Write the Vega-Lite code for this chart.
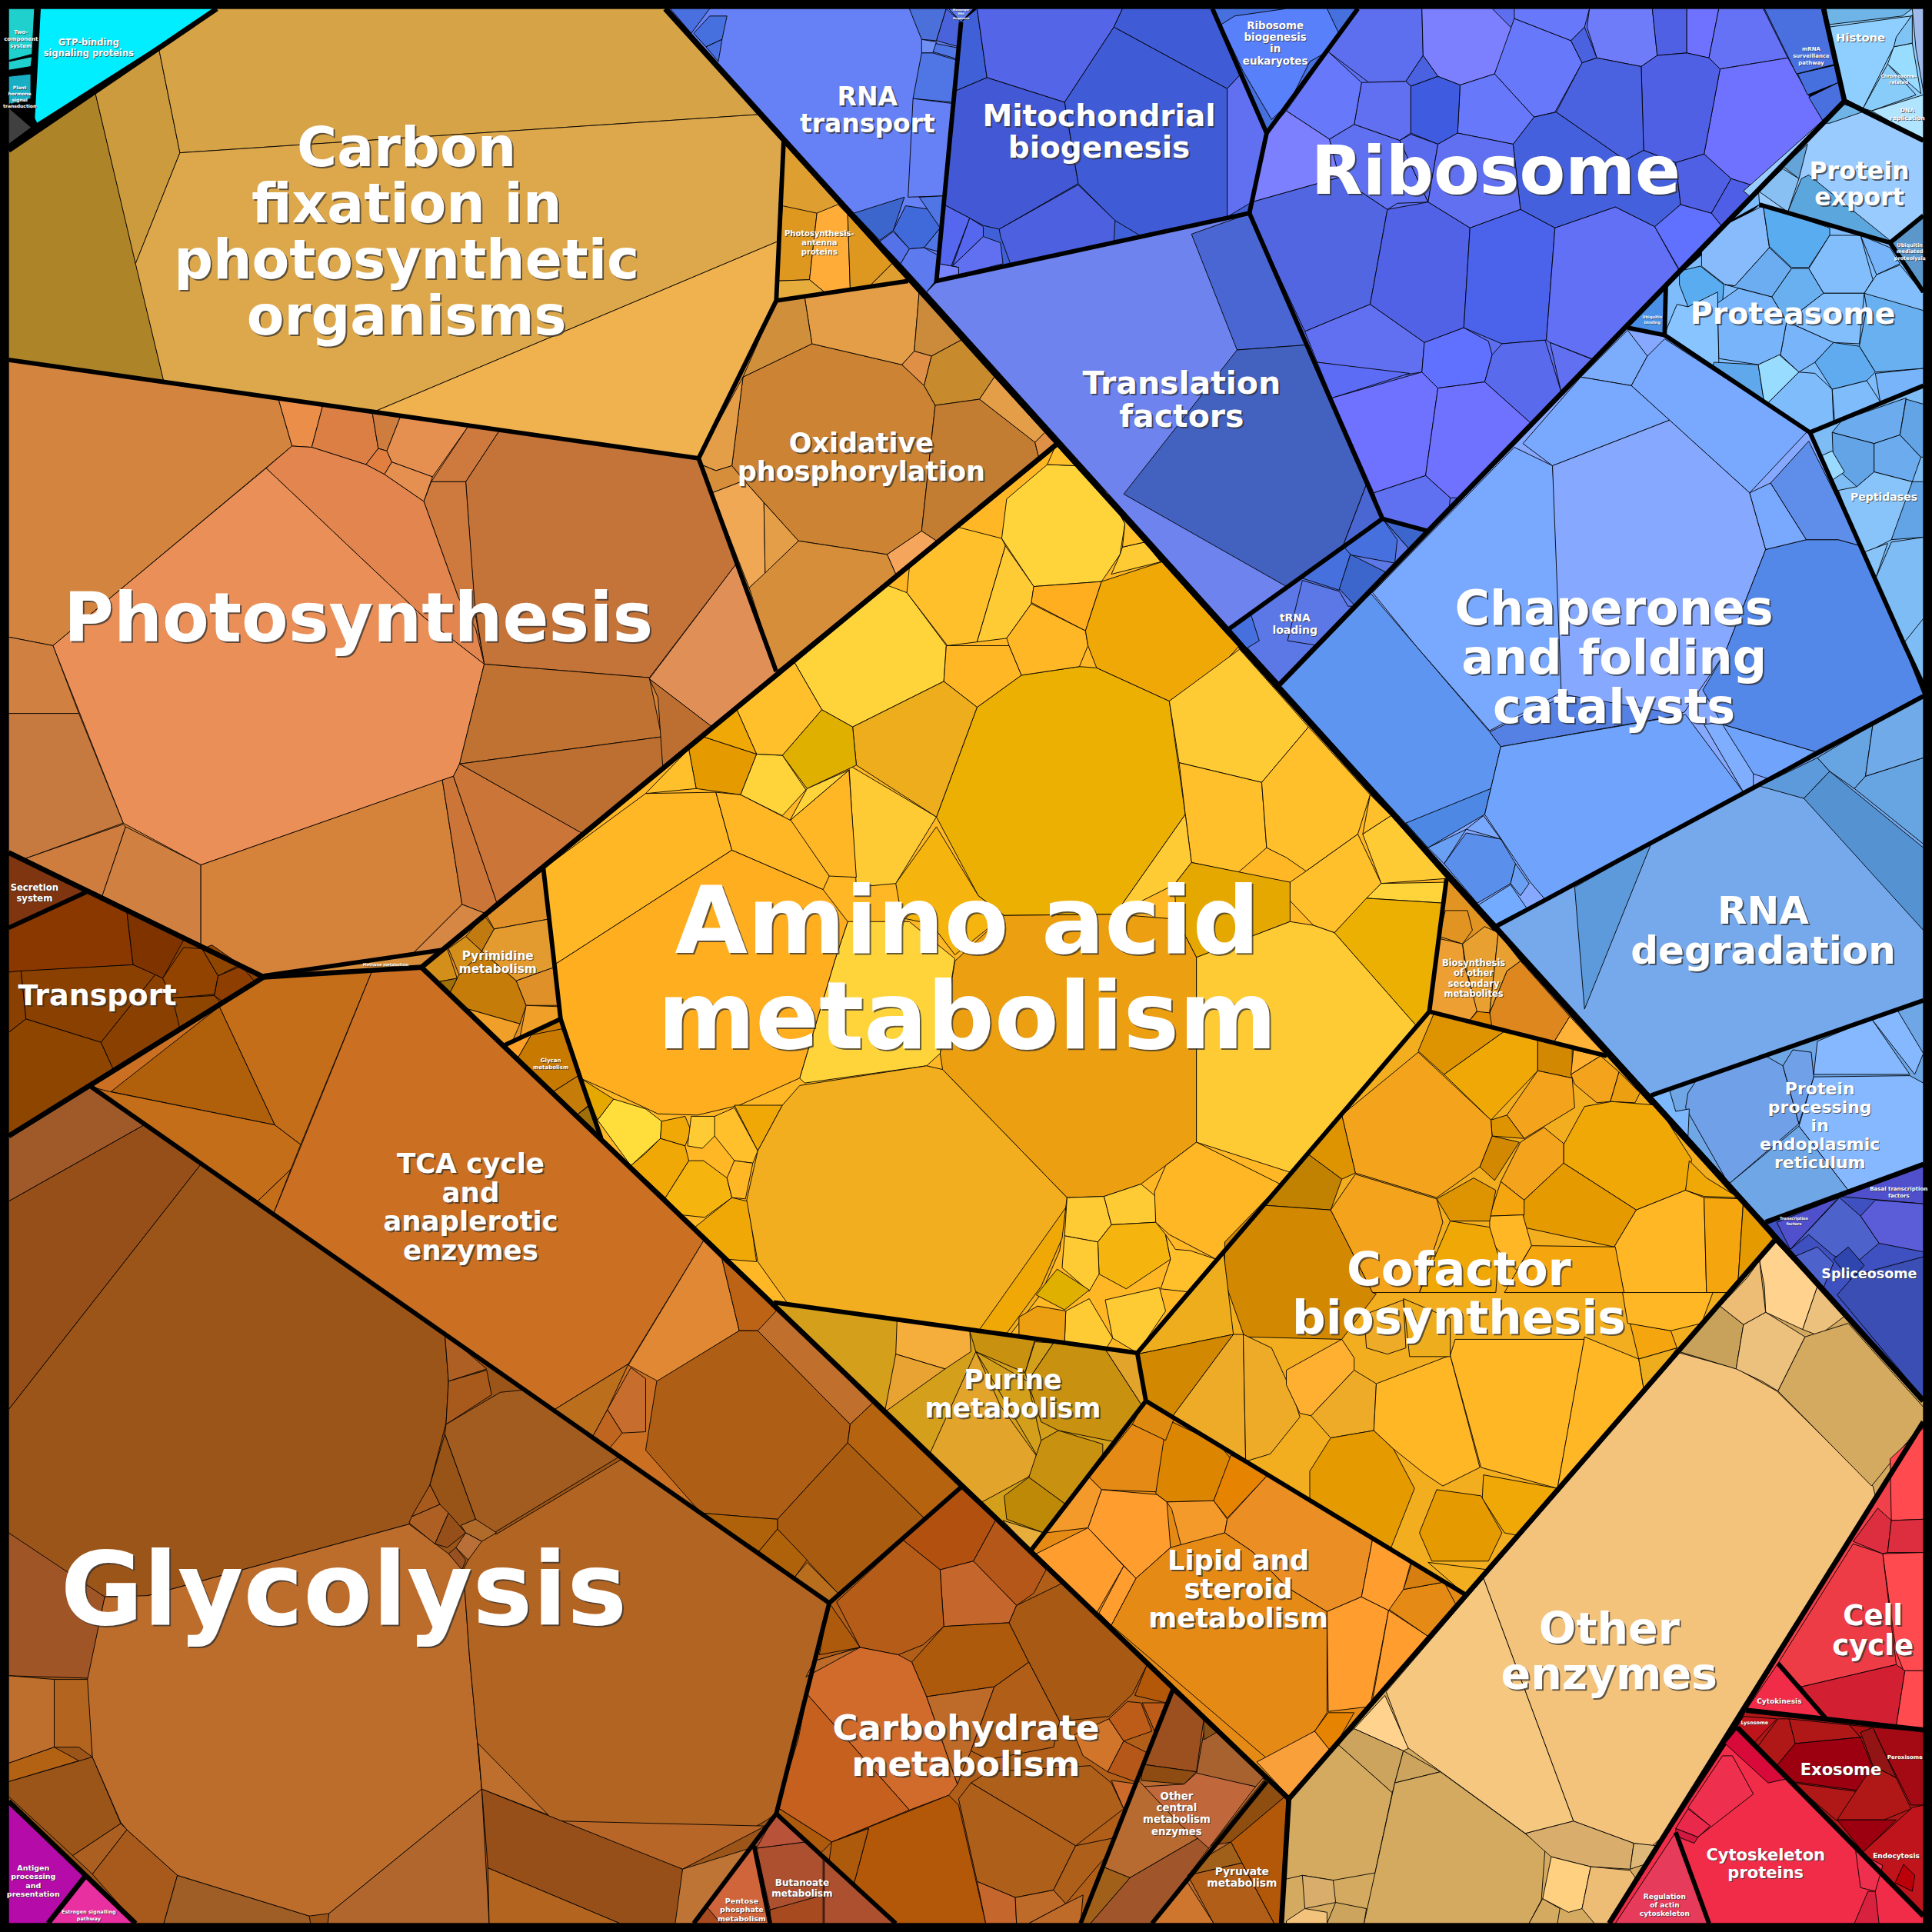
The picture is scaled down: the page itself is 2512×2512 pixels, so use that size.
{"$schema":"https://vega.github.io/schema/vega-lite/v6.json","width":2512,"height":2512,"padding":0,"autosize":"none","background":"#000000","view":{"stroke":null},"projection":{"type":"identity"},
"datasets":{"cells":[
{"k":"z0","type":"Polygon","coordinates":[[[0,0],[1568,0],[1568,1568],[0,1568],[0,0]]]},
{"k":"c4","type":"Polygon","coordinates":[[[176,7],[540,7],[636,115],[630,244],[567,372],[7,292],[7,122],[176,7]]]},
{"k":"c2","type":"Polygon","coordinates":[[[7,122],[77,74],[133,310],[7,292],[7,122]]]},
{"k":"c3","type":"Polygon","coordinates":[[[77,74],[129,40],[146,124],[110,214],[77,74]]]},
{"k":"c1","type":"Polygon","coordinates":[[[129,40],[176,7],[540,7],[615,93],[146,124],[129,40]]]},
{"k":"c4","type":"Polygon","coordinates":[[[146,124],[615,93],[635,115],[631,196],[304,334],[133,310],[110,214],[146,124]]]},
{"k":"c5","type":"Polygon","coordinates":[[[304,334],[631,196],[630,244],[567,372],[304,334]]]},
{"k":"a1","type":"Polygon","coordinates":[[[635,115],[737,228],[630,244],[635,115]]]},
{"k":"a2","type":"Polygon","coordinates":[[[635,167],[663,173],[657,227],[631,228],[635,167]]]},
{"k":"a3","type":"Polygon","coordinates":[[[663,173],[680,166],[688,174],[690,234],[669,237],[657,227],[663,173]]]},
{"k":"a2","type":"Polygon","coordinates":[[[688,174],[724,214],[706,232],[690,234],[688,174]]]},
{"k":"a4","type":"Polygon","coordinates":[[[631,228],[657,227],[669,237],[630,244],[631,228]]]},
{"k":"a1","type":"Polygon","coordinates":[[[706,232],[724,214],[737,228],[706,232]]]},
{"k":"x1","type":"Polygon","coordinates":[[[630,244],[737,228],[857,361],[630,545],[567,372],[630,244]]]},
{"k":"x2","type":"Polygon","coordinates":[[[659,279],[732,296],[750,313],[759,329],[748,431],[720,450],[648,439],[604,390],[594,378],[603,306],[659,279]]]},
{"k":"x3","type":"Polygon","coordinates":[[[653,241],[737,228],[746,237],[742,285],[732,296],[659,279],[653,241]]]},
{"k":"x1","type":"Polygon","coordinates":[[[630,244],[653,241],[659,279],[603,306],[630,244]]]},
{"k":"x4","type":"Polygon","coordinates":[[[746,237],[780,276],[756,289],[742,285],[746,237]]]},
{"k":"x5","type":"Polygon","coordinates":[[[742,285],[756,289],[750,313],[732,296],[742,285]]]},
{"k":"x6","type":"Polygon","coordinates":[[[756,289],[780,276],[807,306],[795,324],[759,329],[750,313],[756,289]]]},
{"k":"x7","type":"Polygon","coordinates":[[[759,329],[795,324],[840,359],[843,371],[760,439],[748,431],[759,329]]]},
{"k":"x3","type":"Polygon","coordinates":[[[795,324],[807,306],[848,351],[840,359],[795,324]]]},
{"k":"x5","type":"Polygon","coordinates":[[[840,359],[848,351],[857,361],[843,371],[840,359]]]},
{"k":"x8","type":"Polygon","coordinates":[[[720,450],[748,431],[760,439],[727,466],[720,450]]]},
{"k":"x9","type":"Polygon","coordinates":[[[648,439],[720,450],[727,466],[630,545],[608,477],[648,439]]]},
{"k":"x3","type":"Polygon","coordinates":[[[567,372],[603,306],[594,378],[581,382],[569,377],[567,372]]]},
{"k":"x9","type":"Polygon","coordinates":[[[569,377],[581,382],[594,378],[604,390],[578,400],[573,388],[569,377]]]},
{"k":"x10","type":"Polygon","coordinates":[[[578,400],[604,390],[620,408],[621,465],[608,477],[578,400]]]},
{"k":"x3","type":"Polygon","coordinates":[[[620,408],[648,439],[621,465],[620,408]]]},
{"k":"p13","type":"Polygon","coordinates":[[[7,292],[567,372],[630,545],[359,771],[214,792],[7,692],[7,292]]]},
{"k":"p1","type":"Polygon","coordinates":[[[7,292],[226,324],[237,362],[43,524],[7,517],[7,292]]]},
{"k":"p2","type":"Polygon","coordinates":[[[226,324],[262,329],[253,363],[237,362],[226,324]]]},
{"k":"p3","type":"Polygon","coordinates":[[[262,329],[302,334],[307,364],[297,377],[253,363],[262,329]]]},
{"k":"p4","type":"Polygon","coordinates":[[[302,334],[325,338],[314,366],[307,364],[302,334]]]},
{"k":"p5","type":"Polygon","coordinates":[[[307,364],[314,366],[318,375],[312,385],[297,377],[307,364]]]},
{"k":"p6","type":"Polygon","coordinates":[[[325,338],[380,346],[351,387],[318,375],[314,366],[325,338]]]},
{"k":"p6","type":"Polygon","coordinates":[[[318,375],[351,387],[344,407],[312,385],[318,375]]]},
{"k":"p7","type":"Polygon","coordinates":[[[380,346],[405,350],[378,391],[350,391],[380,346]]]},
{"k":"p8","type":"Polygon","coordinates":[[[405,350],[567,372],[598,457],[527,550],[393,539],[385,490],[378,391],[405,350]]]},
{"k":"p7","type":"Polygon","coordinates":[[[344,407],[350,391],[378,391],[386,500],[393,539],[372,485],[344,407]]]},
{"k":"p10","type":"Polygon","coordinates":[[[237,362],[253,363],[297,377],[312,385],[344,407],[372,485],[386,510],[393,539],[344,501],[216,380],[237,362]]]},
{"k":"p9","type":"Polygon","coordinates":[[[216,380],[344,501],[393,539],[373,620],[368,630],[163,702],[100,668],[43,524],[216,380]]]},
{"k":"p11","type":"Polygon","coordinates":[[[7,517],[43,524],[64,579],[7,579],[7,517]]]},
{"k":"p12","type":"Polygon","coordinates":[[[7,579],[64,579],[100,668],[20,697],[7,692],[7,579]]]},
{"k":"p4","type":"Polygon","coordinates":[[[20,697],[100,669],[102,671],[83,727],[20,697]]]},
{"k":"p11","type":"Polygon","coordinates":[[[102,671],[163,702],[163,767],[83,727],[102,671]]]},
{"k":"p13","type":"Polygon","coordinates":[[[163,702],[359,633],[375,734],[336,773],[214,792],[163,767],[163,702]]]},
{"k":"p14","type":"Polygon","coordinates":[[[359,633],[368,630],[403,732],[393,741],[375,734],[359,633]]]},
{"k":"p18","type":"Polygon","coordinates":[[[375,734],[393,741],[359,771],[336,773],[375,734]]]},
{"k":"p14","type":"Polygon","coordinates":[[[368,630],[373,620],[472,676],[403,732],[368,630]]]},
{"k":"p15","type":"Polygon","coordinates":[[[393,539],[527,550],[537,598],[373,620],[393,539]]]},
{"k":"p16","type":"Polygon","coordinates":[[[373,620],[537,598],[538,624],[472,676],[373,620]]]},
{"k":"p17","type":"Polygon","coordinates":[[[527,551],[598,457],[631,546],[578,590],[527,551]]]},
{"k":"p16","type":"Polygon","coordinates":[[[527,551],[578,590],[538,624],[534,566],[527,551]]]},
{"k":"x9","type":"Polygon","coordinates":[[[214,793],[359,771],[342,785],[214,793]]]},
{"k":"y1","type":"Polygon","coordinates":[[[31,7],[176,7],[30,100],[26,92],[31,7]]]},
{"k":"y2","type":"Polygon","coordinates":[[[7,7],[28,7],[26,44],[7,49],[7,7]]]},
{"k":"y2","type":"Polygon","coordinates":[[[7,50],[26,46],[25,54],[7,57],[7,50]]]},
{"k":"y3","type":"Polygon","coordinates":[[[7,62],[25,60],[25,80],[7,85],[7,62]]]},
{"k":"y4","type":"Polygon","coordinates":[[[7,87],[26,103],[7,117],[7,87]]]},
{"k":"Y5","type":"Polygon","coordinates":[[[857,361],[1174,713],[1160,821],[923,1098],[628,1057],[488,924],[471,875],[455,827],[450,783],[441,705],[857,361]]]},
{"k":"Y10","type":"Polygon","coordinates":[[[829,548],[876,541],[890,542],[949,569],[962,661],[905,742],[815,743],[794,727],[760,663],[793,574],[829,548]]]},
{"k":"Y2","type":"Polygon","coordinates":[[[720,475],[736,481],[768,524],[766,553],[692,590],[667,576],[645,538],[720,475]]]},
{"k":"Y2","type":"Polygon","coordinates":[[[813,437],[817,405],[850,377],[874,378],[899,400],[913,425],[909,450],[894,472],[839,476],[813,437]]]},
{"k":"Y4","type":"Polygon","coordinates":[[[778,428],[813,437],[816,443],[793,521],[769,524],[736,481],[738,461],[778,428]]]},
{"k":"Y3","type":"Polygon","coordinates":[[[816,443],[839,476],[837,490],[817,518],[793,521],[816,443]]]},
{"k":"Y6","type":"Polygon","coordinates":[[[839,476],[894,472],[881,512],[837,489],[839,476]]]},
{"k":"Y5","type":"Polygon","coordinates":[[[768,524],[819,524],[829,548],[793,574],[766,553],[768,524]]]},
{"k":"Y5","type":"Polygon","coordinates":[[[817,518],[837,490],[881,512],[883,524],[876,541],[829,548],[819,524],[817,518]]]},
{"k":"Y9","type":"Polygon","coordinates":[[[894,472],[943,456],[996,515],[1006,524],[995,536],[949,569],[890,542],[883,524],[881,512],[894,472]]]},
{"k":"Y3","type":"Polygon","coordinates":[[[911,444],[929,440],[942,456],[902,466],[909,450],[911,444]]]},
{"k":"Y4","type":"Polygon","coordinates":[[[857,361],[929,440],[911,444],[913,425],[899,400],[874,378],[850,377],[857,361]]]},
{"k":"Y3","type":"Polygon","coordinates":[[[949,569],[1006,527],[1062,590],[1024,635],[957,619],[949,569]]]},
{"k":"Y4","type":"Polygon","coordinates":[[[957,619],[1024,635],[1028,688],[1005,708],[967,700],[962,661],[957,619]]]},
{"k":"Y3","type":"Polygon","coordinates":[[[962,661],[967,700],[953,718],[905,742],[962,661]]]},
{"k":"Y4","type":"Polygon","coordinates":[[[1024,635],[1062,590],[1112,645],[1102,677],[1060,707],[1044,696],[1028,688],[1024,635]]]},
{"k":"Y4","type":"Polygon","coordinates":[[[1106,677],[1112,645],[1129,662],[1106,677]]]},
{"k":"Y3","type":"Polygon","coordinates":[[[1106,677],[1129,662],[1174,713],[1121,717],[1106,677]]]},
{"k":"Y4","type":"Polygon","coordinates":[[[1060,707],[1102,677],[1121,717],[1083,757],[1066,751],[1046,730],[1047,716],[1060,707]]]},
{"k":"Y2","type":"Polygon","coordinates":[[[1121,717],[1174,716],[1172,733],[1109,729],[1121,717]]]},
{"k":"Y10","type":"Polygon","coordinates":[[[1109,729],[1172,733],[1160,821],[1149,832],[1083,757],[1109,729]]]},
{"k":"Y12","type":"Polygon","coordinates":[[[967,700],[1047,716],[1047,748],[971,777],[955,746],[953,718],[967,700]]]},
{"k":"Y3","type":"Polygon","coordinates":[[[971,777],[1047,748],[1066,751],[1083,757],[1149,832],[1049,952],[971,927],[971,777]]]},
{"k":"Y11","type":"Polygon","coordinates":[[[815,743],[905,742],[955,746],[971,777],[971,927],[926,961],[896,971],[866,972],[765,868],[763,855],[775,780],[815,743]]]},
{"k":"Y2","type":"Polygon","coordinates":[[[688,748],[738,748],[775,778],[763,855],[752,865],[653,879],[649,875],[678,778],[688,748]]]},
{"k":"Y7","type":"Polygon","coordinates":[[[727,717],[760,671],[794,727],[815,743],[775,775],[756,750],[732,745],[727,717]]]},
{"k":"Y3","type":"Polygon","coordinates":[[[689,621],[760,663],[727,717],[695,720],[689,621]]]},
{"k":"Y5","type":"Polygon","coordinates":[[[641,666],[689,625],[695,712],[673,711],[641,666]]]},
{"k":"Y2","type":"Polygon","coordinates":[[[641,666],[655,640],[689,625],[641,666]]]},
{"k":"Y14","type":"Polygon","coordinates":[[[692,590],[766,553],[793,574],[760,663],[695,621],[692,590]]]},
{"k":"Y13","type":"Polygon","coordinates":[[[667,576],[692,590],[695,621],[655,640],[635,613],[667,576]]]},
{"k":"Y2","type":"Polygon","coordinates":[[[614,612],[635,613],[654,641],[635,662],[601,645],[614,612]]]},
{"k":"Y4","type":"Polygon","coordinates":[[[645,538],[667,576],[635,613],[614,612],[598,576],[645,538]]]},
{"k":"Y20","type":"Polygon","coordinates":[[[571,598],[614,612],[601,645],[565,640],[559,608],[571,598]]]},
{"k":"Y9","type":"Polygon","coordinates":[[[598,576],[614,612],[571,598],[598,576]]]},
{"k":"Y4","type":"Polygon","coordinates":[[[559,608],[565,640],[524,644],[559,608]]]},
{"k":"Y5","type":"Polygon","coordinates":[[[441,705],[524,644],[581,643],[594,690],[450,783],[441,705]]]},
{"k":"Y5","type":"Polygon","coordinates":[[[581,643],[601,645],[642,666],[673,711],[668,722],[594,690],[581,643]]]},
{"k":"Y6","type":"Polygon","coordinates":[[[450,783],[594,690],[668,722],[688,748],[678,778],[649,875],[600,897],[566,905],[534,904],[500,888],[471,875],[455,827],[450,783]]]},
{"k":"Y1","type":"Polygon","coordinates":[[[498,892],[524,900],[537,910],[536,924],[512,946],[485,909],[498,892]]]},
{"k":"Y12","type":"Polygon","coordinates":[[[471,875],[498,892],[485,909],[471,875]]]},
{"k":"Y9","type":"Polygon","coordinates":[[[537,910],[556,906],[561,918],[556,930],[536,924],[537,910]]]},
{"k":"Y4","type":"Polygon","coordinates":[[[561,918],[580,906],[596,899],[615,934],[611,944],[596,942],[580,922],[561,918]]]},
{"k":"Y9","type":"Polygon","coordinates":[[[596,897],[635,897],[615,934],[596,897]]]},
{"k":"Y3","type":"Polygon","coordinates":[[[561,906],[580,906],[580,922],[570,932],[558,930],[561,906]]]},
{"k":"Y7","type":"Polygon","coordinates":[[[540,972],[559,942],[571,942],[590,956],[594,972],[572,988],[553,986],[540,972]]]},
{"k":"Y9","type":"Polygon","coordinates":[[[524,936],[536,924],[556,930],[559,942],[540,972],[512,946],[524,936]]]},
{"k":"Y5","type":"Polygon","coordinates":[[[596,942],[611,944],[605,973],[594,972],[590,956],[596,942]]]},
{"k":"Y9","type":"Polygon","coordinates":[[[564,996],[594,972],[607,975],[614,1024],[591,1022],[564,996]]]},
{"k":"Y8","type":"Polygon","coordinates":[[[649,881],[752,865],[765,868],[866,972],[860,1015],[845,1050],[820,1083],[640,1059],[615,1024],[606,974],[615,934],[635,897],[649,881]]]},
{"k":"Y9","type":"Polygon","coordinates":[[[865,980],[862,1005],[845,1044],[817,1082],[795,1079],[865,980]]]},
{"k":"Y3","type":"Polygon","coordinates":[[[866,972],[896,971],[902,994],[891,1008],[864,1003],[866,972]]]},
{"k":"Y3","type":"Polygon","coordinates":[[[896,971],[926,961],[938,971],[938,992],[902,994],[896,971]]]},
{"k":"Y7","type":"Polygon","coordinates":[[[902,994],[938,992],[946,1002],[950,1022],[914,1046],[892,1034],[891,1008],[902,994]]]},
{"k":"Y3","type":"Polygon","coordinates":[[[864,1003],[891,1008],[892,1034],[884,1048],[862,1029],[864,1003]]]},
{"k":"Y13","type":"Polygon","coordinates":[[[858,1030],[884,1047],[864,1063],[841,1051],[858,1030]]]},
{"k":"Y3","type":"Polygon","coordinates":[[[865,1064],[884,1054],[903,1086],[898,1094],[864,1089],[865,1064]]]},
{"k":"Y3","type":"Polygon","coordinates":[[[897,1055],[941,1045],[946,1064],[923,1098],[903,1086],[897,1055]]]},
{"k":"Y11","type":"Polygon","coordinates":[[[827,1069],[842,1060],[865,1064],[864,1089],[827,1084],[827,1069]]]},
{"k":"Y5","type":"Polygon","coordinates":[[[971,927],[1039,961],[987,1022],[949,1002],[938,992],[937,967],[946,946],[971,927]]]},
{"k":"Y4","type":"Polygon","coordinates":[[[946,1002],[954,1014],[966,1015],[987,1022],[969,1049],[942,1046],[950,1022],[946,1002]]]},
{"k":"Y8","type":"Polygon","coordinates":[[[1160,821],[1304,857],[1440,1007],[1189,1294],[930,1137],[923,1098],[1160,821]]]},
{"k":"Y15","type":"Polygon","coordinates":[[[1164,822],[1221,837],[1172,872],[1151,853],[1164,822]]]},
{"k":"Y9","type":"Polygon","coordinates":[[[1221,837],[1248,844],[1248,869],[1210,909],[1172,872],[1221,837]]]},
{"k":"Y16","type":"Polygon","coordinates":[[[1248,844],[1276,850],[1276,875],[1248,869],[1248,844]]]},
{"k":"Y22","type":"Polygon","coordinates":[[[1277,852],[1299,857],[1275,872],[1277,852]]]},
{"k":"Y21","type":"Polygon","coordinates":[[[1275,872],[1299,857],[1314,870],[1307,894],[1296,895],[1278,880],[1275,872]]]},
{"k":"Y11","type":"Polygon","coordinates":[[[1314,870],[1331,887],[1327,895],[1307,894],[1314,870]]]},
{"k":"Y21","type":"Polygon","coordinates":[[[1248,869],[1276,875],[1278,899],[1237,924],[1223,905],[1248,869]]]},
{"k":"Y15","type":"Polygon","coordinates":[[[1210,909],[1223,905],[1237,924],[1211,922],[1210,909]]]},
{"k":"Y16","type":"Polygon","coordinates":[[[1211,922],[1233,927],[1213,958],[1201,947],[1211,922]]]},
{"k":"Y21","type":"Polygon","coordinates":[[[1151,854],[1210,909],[1211,922],[1201,947],[1166,972],[1100,952],[1089,905],[1151,854]]]},
{"k":"Y15","type":"Polygon","coordinates":[[[1089,905],[1100,952],[1089,957],[1062,937],[1089,905]]]},
{"k":"Y17","type":"Polygon","coordinates":[[[1062,937],[1089,957],[1080,982],[1023,978],[1062,937]]]},
{"k":"Y16","type":"Polygon","coordinates":[[[994,1008],[1023,978],[1080,982],[1114,1049],[1117,1050],[1089,1087],[1010,1085],[994,1040],[994,1008]]]},
{"k":"Y14","type":"Polygon","coordinates":[[[923,1099],[993,1016],[1001,1083],[923,1099]]]},
{"k":"Y16","type":"Polygon","coordinates":[[[923,1099],[1001,1083],[952,1149],[930,1137],[923,1099]]]},
{"k":"Y19","type":"Polygon","coordinates":[[[1001,1083],[1009,1083],[1011,1186],[952,1149],[1001,1083]]]},
{"k":"Y19","type":"Polygon","coordinates":[[[1009,1083],[1032,1094],[1049,1131],[1055,1150],[1031,1180],[1011,1186],[1009,1083]]]},
{"k":"Y22","type":"Polygon","coordinates":[[[1044,1112],[1089,1087],[1099,1102],[1099,1112],[1064,1149],[1055,1147],[1044,1124],[1044,1112]]]},
{"k":"Y19","type":"Polygon","coordinates":[[[1099,1112],[1117,1123],[1115,1161],[1080,1167],[1064,1149],[1099,1112]]]},
{"k":"Y20","type":"Polygon","coordinates":[[[1063,1194],[1080,1167],[1115,1161],[1131,1176],[1148,1208],[1129,1256],[1063,1216],[1063,1194]]]},
{"k":"Y5","type":"Polygon","coordinates":[[[1117,1123],[1177,1100],[1201,1191],[1171,1206],[1156,1196],[1131,1176],[1115,1161],[1117,1123]]]},
{"k":"Y5","type":"Polygon","coordinates":[[[1177,1100],[1181,1087],[1286,1087],[1264,1208],[1202,1191],[1177,1100]]]},
{"k":"Y5","type":"Polygon","coordinates":[[[1286,1085],[1330,1103],[1334,1127],[1264,1208],[1286,1085]]]},
{"k":"Y9","type":"Polygon","coordinates":[[[1204,1197],[1264,1208],[1231,1246],[1221,1244],[1203,1216],[1204,1197]]]},
{"k":"Y20","type":"Polygon","coordinates":[[[1166,1209],[1202,1214],[1219,1244],[1208,1267],[1162,1267],[1152,1244],[1166,1209]]]},
{"k":"Y8","type":"Polygon","coordinates":[[[1159,1268],[1208,1274],[1199,1291],[1189,1294],[1159,1268]]]},
{"k":"Y18","type":"Polygon","coordinates":[[[1323,1074],[1356,1080],[1361,1094],[1330,1103],[1323,1074]]]},
{"k":"Y5","type":"Polygon","coordinates":[[[1316,1044],[1392,1044],[1381,1074],[1356,1080],[1321,1074],[1316,1044]]]},
{"k":"Y9","type":"Polygon","coordinates":[[[1269,929],[1286,898],[1308,894],[1345,897],[1373,941],[1368,966],[1328,982],[1269,944],[1269,929]]]},
{"k":"Y21","type":"Polygon","coordinates":[[[1234,927],[1253,915],[1269,928],[1269,944],[1237,974],[1218,959],[1234,927]]]},
{"k":"Y20","type":"Polygon","coordinates":[[[1269,944],[1328,982],[1310,1012],[1236,996],[1237,974],[1269,944]]]},
{"k":"Y5","type":"Polygon","coordinates":[[[1328,982],[1368,966],[1383,972],[1385,1049],[1318,1049],[1310,1012],[1328,982]]]},
{"k":"Y18","type":"Polygon","coordinates":[[[1383,972],[1415,973],[1410,1049],[1385,1049],[1383,972]]]},
{"k":"Y20","type":"Polygon","coordinates":[[[1415,974],[1440,1007],[1406,1049],[1410,1049],[1415,974]]]},
{"k":"Y9","type":"Polygon","coordinates":[[[1371,942],[1385,956],[1411,972],[1383,971],[1368,966],[1371,942]]]},
{"k":"Y18","type":"Polygon","coordinates":[[[1209,987],[1218,959],[1237,974],[1237,986],[1209,987]]]},
{"k":"Y5","type":"Polygon","coordinates":[[[1209,987],[1236,986],[1243,1011],[1231,1031],[1209,1007],[1209,987]]]},
{"k":"Y18","type":"Polygon","coordinates":[[[1243,1011],[1311,1012],[1318,1049],[1221,1049],[1243,1011]]]},
{"k":"Y21","type":"Polygon","coordinates":[[[1080,982],[1100,953],[1166,973],[1171,992],[1152,1049],[1114,1049],[1080,982]]]},
{"k":"Y15","type":"Polygon","coordinates":[[[1166,973],[1196,956],[1214,966],[1209,991],[1177,991],[1166,973]]]},
{"k":"Y9","type":"Polygon","coordinates":[[[1177,991],[1209,996],[1216,1019],[1214,1049],[1152,1049],[1177,991]]]},
{"k":"Y19","type":"Polygon","coordinates":[[[1107,1067],[1139,1055],[1141,1094],[1126,1099],[1109,1094],[1107,1067]]]},
{"k":"Y14","type":"Polygon","coordinates":[[[1139,1054],[1177,1070],[1177,1101],[1144,1101],[1139,1054]]]},
{"k":"Y14","type":"Polygon","coordinates":[[[1330,1103],[1361,1094],[1346,1115],[1334,1127],[1330,1103]]]},
{"k":"S1","type":"Polygon","coordinates":[[[1174,713],[1304,857],[1160,821],[1174,713]]]},
{"k":"S2","type":"Polygon","coordinates":[[[1169,762],[1187,766],[1189,785],[1199,820],[1192,829],[1160,821],[1169,762]]]},
{"k":"S1","type":"Polygon","coordinates":[[[1173,739],[1191,739],[1195,755],[1187,766],[1168,760],[1173,739]]]},
{"k":"S3","type":"Polygon","coordinates":[[[1234,780],[1274,825],[1261,846],[1209,834],[1209,822],[1223,788],[1234,780]]]},
{"k":"S4","type":"Polygon","coordinates":[[[1187,766],[1205,752],[1216,757],[1209,822],[1199,822],[1190,785],[1187,766]]]},
{"k":"S4","type":"Polygon","coordinates":[[[1216,757],[1234,780],[1223,788],[1209,822],[1216,757]]]},
{"k":"S6","type":"Polygon","coordinates":[[[1199,821],[1209,822],[1211,834],[1192,829],[1199,821]]]},
{"k":"S5","type":"Polygon","coordinates":[[[1274,825],[1304,857],[1261,846],[1274,825]]]},
{"k":"U1","type":"Polygon","coordinates":[[[628,1057],[923,1099],[930,1137],[837,1258],[628,1057]]]},
{"k":"U4","type":"Polygon","coordinates":[[[728,1072],[787,1079],[788,1097],[767,1111],[727,1099],[728,1072]]]},
{"k":"U7","type":"Polygon","coordinates":[[[727,1099],[767,1111],[718,1146],[727,1099]]]},
{"k":"U2","type":"Polygon","coordinates":[[[787,1080],[840,1087],[832,1114],[792,1097],[787,1080]]]},
{"k":"U1","type":"Polygon","coordinates":[[[840,1089],[855,1090],[834,1121],[832,1114],[840,1089]]]},
{"k":"U2","type":"Polygon","coordinates":[[[855,1090],[897,1095],[927,1141],[904,1170],[859,1161],[845,1154],[834,1121],[855,1090]]]},
{"k":"U3","type":"Polygon","coordinates":[[[897,1095],[923,1099],[930,1137],[927,1141],[897,1095]]]},
{"k":"U3","type":"Polygon","coordinates":[[[792,1097],[812,1141],[845,1187],[834,1199],[797,1219],[755,1179],[792,1097]]]},
{"k":"U1","type":"Polygon","coordinates":[[[792,1097],[834,1121],[845,1169],[845,1187],[792,1097]]]},
{"k":"U2","type":"Polygon","coordinates":[[[859,1161],[895,1172],[895,1181],[865,1221],[835,1199],[845,1169],[859,1161]]]},
{"k":"U5","type":"Polygon","coordinates":[[[835,1199],[865,1221],[847,1244],[817,1233],[815,1214],[835,1199]]]},
{"k":"U6","type":"Polygon","coordinates":[[[814,1234],[847,1244],[837,1258],[814,1234]]]},
{"k":"O2","type":"Polygon","coordinates":[[[930,1137],[1189,1294],[1046,1460],[837,1258],[930,1137]]]},
{"k":"O2","type":"Polygon","coordinates":[[[919,1156],[947,1169],[944,1211],[894,1209],[884,1199],[919,1156]]]},
{"k":"O3","type":"Polygon","coordinates":[[[947,1152],[989,1172],[999,1184],[985,1218],[947,1219],[938,1212],[947,1152]]]},
{"k":"O7","type":"Polygon","coordinates":[[[929,1137],[953,1151],[946,1169],[919,1156],[929,1137]]]},
{"k":"O4","type":"Polygon","coordinates":[[[999,1181],[1029,1197],[996,1232],[985,1218],[999,1181]]]},
{"k":"O5","type":"Polygon","coordinates":[[[947,1219],[985,1218],[996,1233],[994,1244],[959,1256],[951,1225],[947,1219]]]},
{"k":"O6","type":"Polygon","coordinates":[[[996,1233],[1029,1197],[1114,1249],[1105,1296],[1077,1308],[1044,1288],[1016,1259],[994,1244],[996,1233]]]},
{"k":"O1","type":"Polygon","coordinates":[[[894,1209],[939,1213],[947,1219],[950,1256],[922,1281],[883,1240],[894,1209]]]},
{"k":"O5","type":"Polygon","coordinates":[[[884,1199],[894,1209],[883,1240],[849,1244],[884,1199]]]},
{"k":"O1","type":"Polygon","coordinates":[[[841,1261],[883,1240],[912,1271],[890,1309],[841,1261]]]},
{"k":"O1","type":"Polygon","coordinates":[[[912,1271],[922,1281],[902,1319],[892,1309],[912,1271]]]},
{"k":"O2","type":"Polygon","coordinates":[[[922,1281],[950,1256],[994,1244],[1016,1259],[1044,1288],[1077,1308],[1077,1390],[1067,1405],[1028,1427],[902,1319],[922,1281]]]},
{"k":"O1","type":"Polygon","coordinates":[[[1077,1308],[1105,1296],[1127,1307],[1112,1385],[1078,1389],[1077,1308]]]},
{"k":"O1","type":"Polygon","coordinates":[[[1127,1307],[1159,1328],[1122,1375],[1113,1385],[1127,1307]]]},
{"k":"O2","type":"Polygon","coordinates":[[[1127,1306],[1139,1290],[1172,1284],[1182,1303],[1159,1328],[1127,1306]]]},
{"k":"O8","type":"Polygon","coordinates":[[[1139,1290],[1146,1268],[1172,1284],[1139,1290]]]},
{"k":"O1","type":"Polygon","coordinates":[[[1114,1249],[1145,1268],[1139,1290],[1127,1307],[1105,1296],[1114,1249]]]},
{"k":"O9","type":"Polygon","coordinates":[[[1067,1405],[1079,1420],[1046,1458],[1020,1430],[1067,1405]]]},
{"k":"O4","type":"Polygon","coordinates":[[[1078,1390],[1099,1390],[1087,1411],[1079,1420],[1067,1405],[1078,1390]]]},
{"k":"P1","type":"Polygon","coordinates":[[[441,705],[450,783],[455,827],[409,848],[342,785],[441,705]]]},
{"k":"P1","type":"Polygon","coordinates":[[[395,743],[441,706],[445,746],[401,754],[395,743]]]},
{"k":"P2","type":"Polygon","coordinates":[[[378,760],[393,743],[401,754],[391,772],[378,760]]]},
{"k":"P3","type":"Polygon","coordinates":[[[401,754],[445,746],[450,785],[419,796],[391,772],[401,754]]]},
{"k":"P4","type":"Polygon","coordinates":[[[342,785],[363,770],[371,794],[355,797],[342,785]]]},
{"k":"P4","type":"Polygon","coordinates":[[[364,770],[378,760],[391,772],[373,792],[364,770]]]},
{"k":"P5","type":"Polygon","coordinates":[[[372,792],[391,772],[419,796],[427,816],[422,831],[380,819],[365,806],[372,792]]]},
{"k":"P6","type":"Polygon","coordinates":[[[355,797],[371,794],[365,806],[355,797]]]},
{"k":"P1","type":"Polygon","coordinates":[[[419,796],[450,785],[454,816],[427,816],[419,796]]]},
{"k":"P7","type":"Polygon","coordinates":[[[380,819],[422,831],[415,847],[409,848],[380,819]]]},
{"k":"P7","type":"Polygon","coordinates":[[[427,816],[454,817],[455,827],[422,842],[427,816]]]},
{"k":"P8","type":"Polygon","coordinates":[[[409,848],[455,827],[471,875],[488,924],[409,848]]]},
{"k":"P8","type":"Polygon","coordinates":[[[420,859],[431,840],[456,835],[471,872],[449,886],[420,859]]]},
{"k":"P9","type":"Polygon","coordinates":[[[410,848],[431,840],[420,859],[410,848]]]},
{"k":"P5","type":"Polygon","coordinates":[[[449,886],[471,872],[479,896],[468,905],[449,886]]]},
{"k":"P6","type":"Polygon","coordinates":[[[468,905],[479,897],[488,924],[468,905]]]},
{"k":"T4","type":"Polygon","coordinates":[[[7,692],[214,793],[7,922],[7,692]]]},
{"k":"T1","type":"Polygon","coordinates":[[[7,692],[70,724],[7,753],[7,692]]]},
{"k":"T2","type":"Polygon","coordinates":[[[7,753],[70,724],[103,740],[108,783],[7,789],[7,753]]]},
{"k":"T3","type":"Polygon","coordinates":[[[103,740],[149,763],[132,794],[108,783],[103,740]]]},
{"k":"T4","type":"Polygon","coordinates":[[[17,788],[108,783],[126,791],[82,846],[21,827],[17,788]]]},
{"k":"T4","type":"Polygon","coordinates":[[[7,789],[17,788],[21,827],[7,838],[7,789]]]},
{"k":"T5","type":"Polygon","coordinates":[[[7,838],[21,827],[82,846],[92,868],[7,922],[7,838]]]},
{"k":"T4","type":"Polygon","coordinates":[[[82,846],[126,791],[132,794],[142,810],[146,835],[92,868],[82,846]]]},
{"k":"T6","type":"Polygon","coordinates":[[[132,794],[149,769],[164,770],[177,792],[174,807],[140,810],[132,794]]]},
{"k":"T7","type":"Polygon","coordinates":[[[174,808],[177,792],[196,784],[207,797],[181,813],[174,808]]]},
{"k":"T5","type":"Polygon","coordinates":[[[140,810],[174,808],[180,815],[146,835],[140,810]]]},
{"k":"T5","type":"Polygon","coordinates":[[[164,770],[172,767],[195,783],[177,792],[164,770]]]},
{"k":"t3","type":"Polygon","coordinates":[[[214,793],[342,785],[780,1207],[673,1301],[74,882],[214,793]]]},
{"k":"t1","type":"Polygon","coordinates":[[[214,793],[302,788],[244,929],[223,913],[178,817],[214,793]]]},
{"k":"t2","type":"Polygon","coordinates":[[[178,817],[223,913],[90,886],[178,817]]]},
{"k":"t1","type":"Polygon","coordinates":[[[89,886],[223,913],[244,929],[236,949],[209,975],[74,882],[89,886]]]},
{"k":"t1","type":"Polygon","coordinates":[[[236,949],[222,985],[209,975],[236,949]]]},
{"k":"t3","type":"Polygon","coordinates":[[[302,788],[342,785],[571,1007],[510,1107],[450,1144],[222,985],[302,788]]]},
{"k":"t4","type":"Polygon","coordinates":[[[571,1007],[586,1022],[600,1080],[534,1121],[510,1108],[571,1007]]]},
{"k":"t5","type":"Polygon","coordinates":[[[450,1144],[510,1107],[493,1144],[481,1166],[450,1144]]]},
{"k":"t6","type":"Polygon","coordinates":[[[512,1110],[524,1119],[524,1162],[505,1163],[493,1144],[512,1110]]]},
{"k":"t7","type":"Polygon","coordinates":[[[481,1166],[493,1144],[505,1163],[495,1175],[481,1166]]]},
{"k":"t8","type":"Polygon","coordinates":[[[593,1044],[630,1062],[708,1139],[690,1156],[615,1080],[600,1080],[593,1044]]]},
{"k":"t9","type":"Polygon","coordinates":[[[586,1022],[616,1049],[630,1064],[615,1080],[600,1080],[586,1022]]]},
{"k":"t10","type":"Polygon","coordinates":[[[600,1080],[615,1080],[690,1156],[688,1171],[631,1233],[569,1228],[524,1177],[533,1121],[600,1080]]]},
{"k":"t11","type":"Polygon","coordinates":[[[688,1171],[751,1233],[680,1293],[631,1241],[631,1233],[688,1171]]]},
{"k":"t12","type":"Polygon","coordinates":[[[690,1156],[708,1139],[780,1208],[751,1233],[688,1171],[690,1156]]]},
{"k":"t13","type":"Polygon","coordinates":[[[569,1228],[631,1233],[631,1241],[616,1259],[569,1228]]]},
{"k":"t13","type":"Polygon","coordinates":[[[631,1241],[655,1266],[645,1280],[616,1259],[631,1241]]]},
{"k":"t14","type":"Polygon","coordinates":[[[645,1280],[655,1268],[680,1293],[673,1301],[645,1280]]]},
{"k":"g3","type":"Polygon","coordinates":[[[7,922],[74,882],[673,1301],[630,1472],[563,1561],[110,1561],[7,1462],[7,922]]]},
{"k":"g1","type":"Polygon","coordinates":[[[7,922],[73,881],[117,913],[7,975],[7,922]]]},
{"k":"g2","type":"Polygon","coordinates":[[[7,975],[117,913],[163,945],[7,1144],[7,975]]]},
{"k":"g3","type":"Polygon","coordinates":[[[163,945],[361,1082],[364,1121],[362,1155],[349,1205],[332,1237],[120,1295],[88,1310],[7,1244],[7,1144],[163,945]]]},
{"k":"g4","type":"Polygon","coordinates":[[[7,1244],[85,1296],[72,1362],[7,1360],[7,1244]]]},
{"k":"g5","type":"Polygon","coordinates":[[[7,1360],[44,1363],[44,1418],[7,1431],[7,1360]]]},
{"k":"g6","type":"Polygon","coordinates":[[[44,1363],[72,1363],[75,1426],[64,1418],[44,1418],[44,1363]]]},
{"k":"g7","type":"Polygon","coordinates":[[[7,1431],[44,1418],[64,1429],[7,1446],[7,1431]]]},
{"k":"g3","type":"Polygon","coordinates":[[[7,1446],[75,1426],[98,1480],[59,1506],[7,1458],[7,1446]]]},
{"k":"g8","type":"Polygon","coordinates":[[[59,1506],[98,1480],[103,1485],[75,1521],[59,1506]]]},
{"k":"g9","type":"Polygon","coordinates":[[[103,1485],[144,1522],[133,1561],[110,1561],[75,1521],[103,1485]]]},
{"k":"g10","type":"Polygon","coordinates":[[[144,1522],[251,1555],[252,1561],[133,1561],[144,1522]]]},
{"k":"g11","type":"Polygon","coordinates":[[[120,1295],[332,1237],[364,1261],[376,1274],[381,1344],[391,1452],[267,1553],[251,1555],[144,1522],[103,1485],[98,1479],[75,1426],[71,1363],[85,1296],[120,1295]]]},
{"k":"g12","type":"Polygon","coordinates":[[[267,1553],[391,1452],[397,1561],[266,1561],[267,1553]]]},
{"k":"g13","type":"Polygon","coordinates":[[[376,1274],[391,1244],[403,1245],[505,1184],[524,1197],[656,1290],[674,1301],[668,1320],[630,1472],[621,1478],[554,1517],[524,1506],[448,1475],[391,1452],[381,1344],[376,1274]]]},
{"k":"g14","type":"Polygon","coordinates":[[[456,1478],[621,1482],[554,1517],[524,1506],[456,1478]]]},
{"k":"g5","type":"Polygon","coordinates":[[[388,1415],[445,1473],[391,1452],[388,1415]]]},
{"k":"g2","type":"Polygon","coordinates":[[[391,1452],[554,1517],[552,1561],[503,1561],[396,1516],[391,1452]]]},
{"k":"g6","type":"Polygon","coordinates":[[[396,1516],[503,1561],[397,1561],[396,1516]]]},
{"k":"g19","type":"Polygon","coordinates":[[[554,1517],[612,1499],[563,1561],[548,1561],[554,1517]]]},
{"k":"g21","type":"Polygon","coordinates":[[[361,1082],[395,1111],[364,1121],[361,1082]]]},
{"k":"g9","type":"Polygon","coordinates":[[[364,1121],[395,1112],[399,1132],[362,1156],[364,1121]]]},
{"k":"g20","type":"Polygon","coordinates":[[[362,1156],[406,1130],[426,1128],[503,1182],[401,1244],[386,1233],[361,1164],[362,1156]]]},
{"k":"g15","type":"Polygon","coordinates":[[[361,1164],[386,1233],[375,1238],[378,1244],[358,1223],[349,1205],[361,1164]]]},
{"k":"g16","type":"Polygon","coordinates":[[[386,1233],[403,1244],[391,1251],[378,1244],[374,1238],[386,1233]]]},
{"k":"g9","type":"Polygon","coordinates":[[[349,1205],[357,1221],[334,1231],[349,1205]]]},
{"k":"g21","type":"Polygon","coordinates":[[[334,1231],[357,1221],[364,1228],[353,1253],[332,1236],[334,1231]]]},
{"k":"g2","type":"Polygon","coordinates":[[[364,1228],[378,1244],[363,1256],[353,1253],[364,1228]]]},
{"k":"g17","type":"Polygon","coordinates":[[[378,1244],[391,1251],[380,1266],[370,1256],[378,1244]]]},
{"k":"g18","type":"Polygon","coordinates":[[[370,1256],[378,1266],[375,1274],[364,1261],[370,1256]]]},
{"k":"k1","type":"Polygon","coordinates":[[[673,1301],[780,1207],[952,1371],[877,1561],[727,1561],[630,1472],[673,1301]]]},
{"k":"k2","type":"Polygon","coordinates":[[[733,1250],[780,1208],[808,1234],[790,1267],[763,1274],[733,1250]]]},
{"k":"k3","type":"Polygon","coordinates":[[[808,1234],[849,1274],[839,1293],[825,1303],[790,1267],[808,1234]]]},
{"k":"k4","type":"Polygon","coordinates":[[[763,1274],[790,1267],[825,1303],[819,1317],[766,1320],[763,1274]]]},
{"k":"k5","type":"Polygon","coordinates":[[[733,1250],[763,1274],[766,1320],[749,1335],[729,1343],[698,1337],[679,1300],[733,1250]]]},
{"k":"k6","type":"Polygon","coordinates":[[[766,1320],[819,1317],[835,1349],[807,1369],[752,1377],[740,1349],[766,1320]]]},
{"k":"k7","type":"Polygon","coordinates":[[[819,1317],[825,1303],[862,1285],[931,1351],[919,1375],[900,1393],[860,1397],[835,1349],[819,1317]]]},
{"k":"k8","type":"Polygon","coordinates":[[[698,1337],[729,1343],[740,1349],[752,1377],[777,1448],[770,1457],[738,1469],[655,1375],[661,1348],[698,1337]]]},
{"k":"k9","type":"Polygon","coordinates":[[[655,1375],[738,1469],[675,1495],[631,1467],[648,1411],[655,1375]]]},
{"k":"k10","type":"Polygon","coordinates":[[[675,1495],[770,1457],[778,1465],[800,1561],[727,1561],[693,1529],[705,1484],[675,1495]]]},
{"k":"k11","type":"Polygon","coordinates":[[[788,1447],[802,1438],[885,1433],[902,1447],[912,1468],[873,1498],[788,1447]]]},
{"k":"k11","type":"Polygon","coordinates":[[[778,1460],[788,1447],[873,1498],[855,1534],[824,1540],[793,1527],[778,1460]]]},
{"k":"k4","type":"Polygon","coordinates":[[[793,1527],[824,1540],[825,1561],[800,1561],[793,1527]]]},
{"k":"k12","type":"Polygon","coordinates":[[[824,1540],[855,1534],[865,1545],[835,1561],[825,1561],[824,1540]]]},
{"k":"k11","type":"Polygon","coordinates":[[[855,1534],[873,1498],[912,1490],[886,1520],[865,1545],[855,1534]]]},
{"k":"k12","type":"Polygon","coordinates":[[[865,1545],[879,1538],[877,1561],[835,1561],[865,1545]]]},
{"k":"k12","type":"Polygon","coordinates":[[[752,1377],[807,1369],[788,1421],[777,1448],[752,1377]]]},
{"k":"k1","type":"Polygon","coordinates":[[[807,1369],[835,1349],[860,1397],[855,1418],[802,1428],[788,1421],[807,1369]]]},
{"k":"k13","type":"Polygon","coordinates":[[[872,1408],[900,1395],[912,1413],[899,1438],[879,1425],[872,1408]]]},
{"k":"k14","type":"Polygon","coordinates":[[[900,1395],[915,1381],[926,1382],[935,1405],[912,1413],[900,1395]]]},
{"k":"k3","type":"Polygon","coordinates":[[[912,1413],[932,1423],[924,1447],[899,1438],[912,1413]]]},
{"k":"k14","type":"Polygon","coordinates":[[[927,1382],[946,1382],[937,1405],[927,1382]]]},
{"k":"k15","type":"Polygon","coordinates":[[[902,1445],[924,1448],[912,1468],[902,1445]]]},
{"k":"k10","type":"Polygon","coordinates":[[[921,1376],[931,1351],[952,1371],[946,1382],[921,1376]]]},
{"k":"k6","type":"Polygon","coordinates":[[[665,1343],[673,1301],[698,1337],[665,1343]]]},
{"k":"k12","type":"Polygon","coordinates":[[[661,1348],[698,1337],[654,1361],[661,1348]]]},
{"k":"k6","type":"Polygon","coordinates":[[[631,1467],[675,1495],[665,1505],[628,1473],[631,1467]]]},
{"k":"k6","type":"Polygon","coordinates":[[[675,1495],[705,1484],[693,1529],[673,1510],[675,1495]]]},
{"k":"n1","type":"Polygon","coordinates":[[[630,1472],[727,1561],[625,1561],[612,1498],[630,1472]]]},
{"k":"n1","type":"Polygon","coordinates":[[[614,1500],[653,1495],[668,1509],[668,1539],[625,1550],[614,1500]]]},
{"k":"n2","type":"Polygon","coordinates":[[[625,1550],[668,1538],[668,1561],[625,1561],[625,1550]]]},
{"k":"n1","type":"Polygon","coordinates":[[[669,1509],[727,1561],[669,1561],[669,1509]]]},
{"k":"n3","type":"Polygon","coordinates":[[[629,1473],[653,1495],[614,1500],[629,1473]]]},
{"k":"n4","type":"Polygon","coordinates":[[[612,1498],[625,1561],[563,1561],[612,1498]]]},
{"k":"n2","type":"Polygon","coordinates":[[[574,1548],[585,1561],[563,1561],[574,1548]]]},
{"k":"n10","type":"Polygon","coordinates":[[[952,1371],[1028,1446],[935,1561],[877,1561],[952,1371]]]},
{"k":"n5","type":"Polygon","coordinates":[[[946,1382],[952,1373],[977,1395],[971,1438],[928,1432],[946,1382]]]},
{"k":"n6","type":"Polygon","coordinates":[[[977,1406],[989,1406],[1026,1442],[1019,1450],[971,1440],[977,1406]]]},
{"k":"n7","type":"Polygon","coordinates":[[[977,1395],[989,1405],[977,1412],[977,1395]]]},
{"k":"n8","type":"Polygon","coordinates":[[[928,1432],[971,1438],[961,1448],[926,1445],[928,1432]]]},
{"k":"n9","type":"Polygon","coordinates":[[[971,1439],[1019,1450],[981,1500],[946,1482],[928,1450],[961,1448],[971,1439]]]},
{"k":"n10","type":"Polygon","coordinates":[[[924,1445],[959,1482],[972,1492],[917,1524],[895,1515],[924,1445]]]},
{"k":"n11","type":"Polygon","coordinates":[[[981,1500],[935,1561],[885,1561],[917,1524],[972,1492],[981,1500]]]},
{"k":"n14","type":"Polygon","coordinates":[[[877,1561],[895,1515],[917,1524],[885,1561],[877,1561]]]},
{"k":"n10","type":"Polygon","coordinates":[[[1028,1446],[1046,1460],[1040,1561],[935,1561],[1028,1446]]]},
{"k":"n12","type":"Polygon","coordinates":[[[1028,1442],[1043,1458],[999,1495],[983,1498],[1028,1442]]]},
{"k":"k10","type":"Polygon","coordinates":[[[1043,1458],[1046,1458],[1041,1561],[1034,1561],[999,1495],[1043,1458]]]},
{"k":"n14","type":"Polygon","coordinates":[[[974,1510],[999,1495],[1008,1512],[964,1522],[974,1510]]]},
{"k":"n13","type":"Polygon","coordinates":[[[962,1525],[985,1561],[934,1561],[962,1525]]]},
{"k":"k1","type":"Polygon","coordinates":[[[964,1522],[1008,1512],[1034,1561],[985,1561],[964,1522]]]},
{"k":"e1","type":"Polygon","coordinates":[[[1046,1460],[1440,1007],[1561,1137],[1561,1154],[1306,1561],[1040,1561],[1046,1460]]]},
{"k":"e2","type":"Polygon","coordinates":[[[1363,1098],[1410,1111],[1442,1129],[1520,1206],[1522,1214],[1358,1483],[1341,1498],[1326,1496],[1277,1478],[1204,1281],[1363,1098]]]},
{"k":"e3","type":"Polygon","coordinates":[[[1204,1281],[1277,1478],[1238,1488],[1142,1418],[1125,1373],[1204,1281]]]},
{"k":"e4","type":"Polygon","coordinates":[[[1099,1403],[1124,1376],[1143,1419],[1139,1421],[1099,1403]]]},
{"k":"e5","type":"Polygon","coordinates":[[[1085,1415],[1099,1403],[1139,1421],[1130,1455],[1085,1415]]]},
{"k":"e1","type":"Polygon","coordinates":[[[1044,1461],[1085,1415],[1130,1455],[1116,1520],[1082,1526],[1057,1522],[1044,1525],[1044,1461]]]},
{"k":"e5","type":"Polygon","coordinates":[[[1139,1421],[1169,1438],[1132,1447],[1139,1421]]]},
{"k":"e1","type":"Polygon","coordinates":[[[1132,1447],[1169,1438],[1254,1500],[1251,1542],[1241,1561],[1107,1561],[1116,1520],[1132,1447]]]},
{"k":"e6","type":"Polygon","coordinates":[[[1238,1488],[1277,1478],[1326,1496],[1323,1517],[1291,1515],[1259,1507],[1251,1500],[1238,1488]]]},
{"k":"e7","type":"Polygon","coordinates":[[[1326,1496],[1345,1498],[1338,1512],[1323,1517],[1326,1496]]]},
{"k":"e8","type":"Polygon","coordinates":[[[1259,1507],[1291,1515],[1284,1549],[1273,1552],[1252,1541],[1259,1507]]]},
{"k":"e9","type":"Polygon","coordinates":[[[1291,1515],[1323,1518],[1328,1525],[1306,1561],[1294,1561],[1284,1549],[1291,1515]]]},
{"k":"e1","type":"Polygon","coordinates":[[[1252,1541],[1266,1549],[1264,1561],[1241,1561],[1252,1541]]]},
{"k":"e6","type":"Polygon","coordinates":[[[1057,1522],[1082,1526],[1084,1544],[1059,1549],[1057,1522]]]},
{"k":"e5","type":"Polygon","coordinates":[[[1084,1544],[1109,1549],[1107,1561],[1077,1561],[1084,1544]]]},
{"k":"e2","type":"Polygon","coordinates":[[[1044,1559],[1059,1549],[1077,1552],[1077,1561],[1044,1561],[1044,1559]]]},
{"k":"e11","type":"Polygon","coordinates":[[[1396,1060],[1415,1075],[1409,1111],[1363,1097],[1396,1060]]]},
{"k":"e10","type":"Polygon","coordinates":[[[1415,1075],[1433,1065],[1465,1085],[1443,1129],[1430,1121],[1409,1111],[1415,1075]]]},
{"k":"e4","type":"Polygon","coordinates":[[[1432,1044],[1428,1023],[1440,1007],[1455,1023],[1475,1044],[1463,1079],[1433,1065],[1432,1044]]]},
{"k":"e9","type":"Polygon","coordinates":[[[1396,1060],[1418,1037],[1428,1023],[1433,1065],[1415,1075],[1396,1060]]]},
{"k":"e10","type":"Polygon","coordinates":[[[1475,1044],[1500,1066],[1476,1084],[1463,1079],[1475,1044]]]},
{"k":"e1","type":"Polygon","coordinates":[[[1443,1129],[1465,1085],[1500,1074],[1561,1142],[1561,1154],[1519,1206],[1443,1129]]]},
{"k":"r1","type":"Polygon","coordinates":[[[1561,1154],[1561,1404],[1417,1388],[1561,1154]]]},
{"k":"r2","type":"Polygon","coordinates":[[[1534,1184],[1561,1159],[1561,1233],[1535,1234],[1534,1184]]]},
{"k":"r3","type":"Polygon","coordinates":[[[1504,1251],[1524,1224],[1535,1234],[1532,1260],[1528,1261],[1504,1251]]]},
{"k":"r3","type":"Polygon","coordinates":[[[1535,1234],[1561,1233],[1561,1260],[1532,1260],[1535,1234]]]},
{"k":"r2","type":"Polygon","coordinates":[[[1528,1261],[1561,1260],[1561,1356],[1545,1356],[1539,1341],[1528,1261]]]},
{"k":"r4","type":"Polygon","coordinates":[[[1504,1253],[1528,1261],[1539,1351],[1462,1369],[1443,1350],[1504,1253]]]},
{"k":"r5","type":"Polygon","coordinates":[[[1462,1369],[1539,1351],[1546,1356],[1539,1401],[1483,1396],[1462,1369]]]},
{"k":"r2","type":"Polygon","coordinates":[[[1546,1356],[1561,1356],[1561,1404],[1539,1401],[1546,1356]]]},
{"k":"r13","type":"Polygon","coordinates":[[[1417,1388],[1443,1350],[1483,1396],[1417,1388]]]},
{"k":"r6","type":"Polygon","coordinates":[[[1417,1388],[1561,1404],[1561,1555],[1410,1402],[1417,1388]]]},
{"k":"r7","type":"Polygon","coordinates":[[[1410,1401],[1415,1393],[1442,1395],[1423,1415],[1410,1401]]]},
{"k":"r6","type":"Polygon","coordinates":[[[1427,1417],[1443,1395],[1452,1395],[1457,1415],[1442,1433],[1427,1417]]]},
{"k":"r6","type":"Polygon","coordinates":[[[1452,1395],[1501,1400],[1510,1410],[1457,1415],[1452,1395]]]},
{"k":"r9","type":"Polygon","coordinates":[[[1501,1400],[1520,1402],[1510,1410],[1501,1400]]]},
{"k":"r8","type":"Polygon","coordinates":[[[1457,1415],[1510,1410],[1520,1435],[1507,1453],[1455,1446],[1442,1433],[1457,1415]]]},
{"k":"r10","type":"Polygon","coordinates":[[[1510,1406],[1520,1402],[1539,1443],[1520,1433],[1510,1406]]]},
{"k":"r6","type":"Polygon","coordinates":[[[1455,1447],[1507,1454],[1491,1478],[1455,1447]]]},
{"k":"r6","type":"Polygon","coordinates":[[[1520,1433],[1539,1443],[1551,1468],[1529,1477],[1491,1477],[1512,1445],[1520,1433]]]},
{"k":"r8","type":"Polygon","coordinates":[[[1491,1477],[1539,1477],[1512,1503],[1491,1477]]]},
{"k":"r11","type":"Polygon","coordinates":[[[1520,1402],[1561,1405],[1561,1465],[1551,1465],[1527,1417],[1520,1402]]]},
{"k":"r7","type":"Polygon","coordinates":[[[1512,1503],[1552,1467],[1561,1465],[1561,1555],[1525,1520],[1512,1503]]]},
{"k":"r12","type":"Polygon","coordinates":[[[1538,1528],[1545,1513],[1554,1522],[1552,1535],[1538,1528]]]},
{"k":"r13","type":"Polygon","coordinates":[[[1410,1402],[1561,1555],[1561,1561],[1306,1561],[1410,1402]]]},
{"k":"r14","type":"Polygon","coordinates":[[[1411,1402],[1449,1444],[1435,1447],[1400,1415],[1411,1402]]]},
{"k":"r19","type":"Polygon","coordinates":[[[1378,1491],[1388,1482],[1370,1467],[1398,1425],[1406,1425],[1423,1456],[1378,1491]]]},
{"k":"r15","type":"Polygon","coordinates":[[[1360,1484],[1370,1468],[1388,1482],[1378,1491],[1360,1484]]]},
{"k":"r16","type":"Polygon","coordinates":[[[1360,1484],[1378,1491],[1375,1496],[1360,1490],[1360,1484]]]},
{"k":"r17","type":"Polygon","coordinates":[[[1360,1487],[1387,1561],[1311,1561],[1360,1487]]]},
{"k":"r18","type":"Polygon","coordinates":[[[1516,1535],[1522,1535],[1525,1561],[1505,1561],[1516,1535]]]},
{"k":"r19","type":"Polygon","coordinates":[[[1506,1502],[1528,1514],[1522,1535],[1510,1532],[1506,1502]]]},
{"k":"m1","type":"Polygon","coordinates":[[[540,7],[770,7],[780,18],[760,228],[752,237],[540,7]]]},
{"k":"m2","type":"Polygon","coordinates":[[[544,7],[576,7],[561,27],[544,7]]]},
{"k":"m3","type":"Polygon","coordinates":[[[563,27],[576,13],[590,13],[586,32],[573,38],[563,27]]]},
{"k":"m2","type":"Polygon","coordinates":[[[573,38],[586,32],[583,50],[573,38]]]},
{"k":"m4","type":"Polygon","coordinates":[[[738,7],[768,7],[760,33],[748,32],[738,7]]]},
{"k":"m5","type":"Polygon","coordinates":[[[768,7],[780,18],[778,38],[760,33],[768,7]]]},
{"k":"m6","type":"Polygon","coordinates":[[[758,35],[778,39],[777,48],[757,42],[758,35]]]},
{"k":"m7","type":"Polygon","coordinates":[[[748,32],[760,34],[757,43],[748,43],[748,32]]]},
{"k":"m6","type":"Polygon","coordinates":[[[748,43],[757,43],[777,49],[773,83],[741,80],[748,43]]]},
{"k":"m1","type":"Polygon","coordinates":[[[741,80],[773,84],[766,159],[737,160],[741,80]]]},
{"k":"m8","type":"Polygon","coordinates":[[[693,173],[734,160],[725,187],[714,195],[693,173]]]},
{"k":"m9","type":"Polygon","coordinates":[[[735,167],[755,170],[763,185],[750,201],[738,202],[725,187],[735,167]]]},
{"k":"m6","type":"Polygon","coordinates":[[[746,160],[766,159],[763,185],[746,160]]]},
{"k":"m10","type":"Polygon","coordinates":[[[714,196],[725,188],[738,202],[731,214],[714,196]]]},
{"k":"m6","type":"Polygon","coordinates":[[[750,201],[763,185],[761,204],[750,201]]]},
{"k":"m11","type":"Polygon","coordinates":[[[731,214],[738,202],[750,201],[761,207],[760,227],[752,237],[731,214]]]},
{"k":"m12","type":"Polygon","coordinates":[[[780,18],[793,7],[984,7],[1028,108],[1014,173],[760,228],[780,18]]]},
{"k":"m11","type":"Polygon","coordinates":[[[770,7],[790,7],[780,18],[770,7]]]},
{"k":"m12","type":"Polygon","coordinates":[[[780,18],[793,7],[801,63],[775,74],[780,18]]]},
{"k":"m13","type":"Polygon","coordinates":[[[793,7],[911,7],[904,22],[864,83],[801,63],[793,7]]]},
{"k":"m14","type":"Polygon","coordinates":[[[911,7],[984,7],[1009,58],[996,72],[904,22],[911,7]]]},
{"k":"m14","type":"Polygon","coordinates":[[[904,22],[996,72],[996,176],[925,191],[905,179],[875,149],[864,83],[904,22]]]},
{"k":"v11","type":"Polygon","coordinates":[[[996,72],[1009,58],[1028,108],[1016,164],[996,176],[996,72]]]},
{"k":"m16","type":"Polygon","coordinates":[[[801,63],[864,83],[875,149],[811,186],[798,183],[787,177],[766,166],[775,74],[801,63]]]},
{"k":"m17","type":"Polygon","coordinates":[[[811,186],[875,150],[905,179],[904,197],[820,214],[812,192],[811,186]]]},
{"k":"m18","type":"Polygon","coordinates":[[[766,166],[787,177],[772,216],[762,214],[766,166]]]},
{"k":"m18","type":"Polygon","coordinates":[[[787,177],[798,184],[798,192],[773,216],[787,177]]]},
{"k":"v11","type":"Polygon","coordinates":[[[798,192],[812,197],[814,214],[778,223],[778,217],[773,216],[798,192]]]},
{"k":"m19","type":"Polygon","coordinates":[[[762,214],[778,217],[778,223],[761,228],[762,214]]]},
{"k":"m3","type":"Polygon","coordinates":[[[984,7],[1102,7],[1028,108],[984,7]]]},
{"k":"m20","type":"Polygon","coordinates":[[[991,20],[1002,13],[1044,7],[1077,7],[1087,28],[1077,42],[1063,50],[1046,84],[1032,97],[1009,58],[991,20]]]},
{"k":"v1","type":"Polygon","coordinates":[[[1102,7],[1432,7],[1480,99],[1159,431],[1122,421],[1014,173],[1028,108],[1102,7]]]},
{"k":"v1","type":"Polygon","coordinates":[[[1102,7],[1154,7],[1155,45],[1141,66],[1111,67],[1078,42],[1102,7]]]},
{"k":"v2","type":"Polygon","coordinates":[[[1154,7],[1211,7],[1228,24],[1213,60],[1185,69],[1167,62],[1155,45],[1154,7]]]},
{"k":"v3","type":"Polygon","coordinates":[[[1155,45],[1167,62],[1145,70],[1141,66],[1155,45]]]},
{"k":"v4","type":"Polygon","coordinates":[[[1229,15],[1275,33],[1284,51],[1262,91],[1245,95],[1213,60],[1229,15]]]},
{"k":"v4","type":"Polygon","coordinates":[[[1229,7],[1290,7],[1286,22],[1275,33],[1229,15],[1229,7]]]},
{"k":"v3","type":"Polygon","coordinates":[[[1286,22],[1296,47],[1284,51],[1275,33],[1286,22]]]},
{"k":"v5","type":"Polygon","coordinates":[[[1290,7],[1341,7],[1345,45],[1332,54],[1296,47],[1288,22],[1290,7]]]},
{"k":"v8","type":"Polygon","coordinates":[[[1341,7],[1369,7],[1369,43],[1345,45],[1341,7]]]},
{"k":"v6","type":"Polygon","coordinates":[[[1369,7],[1395,7],[1387,47],[1369,43],[1369,7]]]},
{"k":"v7","type":"Polygon","coordinates":[[[1395,7],[1431,7],[1451,47],[1396,56],[1387,47],[1395,7]]]},
{"k":"v6","type":"Polygon","coordinates":[[[1396,56],[1451,47],[1480,99],[1427,152],[1405,145],[1383,125],[1396,56]]]},
{"k":"m2","type":"Polygon","coordinates":[[[1432,7],[1480,7],[1490,52],[1458,60],[1432,7]]]},
{"k":"m3","type":"Polygon","coordinates":[[[1459,60],[1489,53],[1492,67],[1467,77],[1459,60]]]},
{"k":"m2","type":"Polygon","coordinates":[[[1468,79],[1492,67],[1497,82],[1480,99],[1468,79]]]},
{"k":"v8","type":"Polygon","coordinates":[[[1345,45],[1369,43],[1387,47],[1396,56],[1383,125],[1360,132],[1334,122],[1332,54],[1345,45]]]},
{"k":"v3","type":"Polygon","coordinates":[[[1284,51],[1296,47],[1332,54],[1334,122],[1319,130],[1263,91],[1284,51]]]},
{"k":"v9","type":"Polygon","coordinates":[[[1245,95],[1263,91],[1319,130],[1334,122],[1360,132],[1364,166],[1343,184],[1311,168],[1262,185],[1234,170],[1228,117],[1245,95]]]},
{"k":"v4","type":"Polygon","coordinates":[[[1183,108],[1228,117],[1245,95],[1213,60],[1185,69],[1183,108]]]},
{"k":"v10","type":"Polygon","coordinates":[[[1185,69],[1183,108],[1167,117],[1145,108],[1145,70],[1167,62],[1185,69]]]},
{"k":"v11","type":"Polygon","coordinates":[[[1105,67],[1141,66],[1145,70],[1145,108],[1136,114],[1099,101],[1105,67]]]},
{"k":"v4","type":"Polygon","coordinates":[[[1078,42],[1105,67],[1099,101],[1079,113],[1044,90],[1078,42]]]},
{"k":"v2","type":"Polygon","coordinates":[[[1044,90],[1079,113],[1087,144],[1016,164],[1028,108],[1044,90]]]},
{"k":"v12","type":"Polygon","coordinates":[[[1016,164],[1087,144],[1126,170],[1112,247],[1059,269],[1014,173],[1016,164]]]},
{"k":"v13","type":"Polygon","coordinates":[[[1079,113],[1099,101],[1136,114],[1159,164],[1134,165],[1126,170],[1087,144],[1079,113]]]},
{"k":"v20","type":"Polygon","coordinates":[[[1136,114],[1145,109],[1167,117],[1159,164],[1136,114]]]},
{"k":"v11","type":"Polygon","coordinates":[[[1167,117],[1183,108],[1228,117],[1234,170],[1193,185],[1159,164],[1167,117]]]},
{"k":"v14","type":"Polygon","coordinates":[[[1126,170],[1159,164],[1193,185],[1188,266],[1156,278],[1112,247],[1126,170]]]},
{"k":"v15","type":"Polygon","coordinates":[[[1193,185],[1234,170],[1262,185],[1255,276],[1219,279],[1188,266],[1193,185]]]},
{"k":"v16","type":"Polygon","coordinates":[[[1262,185],[1311,168],[1343,184],[1363,220],[1294,292],[1258,278],[1255,276],[1262,185]]]},
{"k":"v19","type":"Polygon","coordinates":[[[1343,184],[1364,166],[1389,173],[1397,183],[1363,219],[1343,184]]]},
{"k":"v8","type":"Polygon","coordinates":[[[1360,132],[1383,125],[1405,145],[1389,173],[1364,166],[1360,132]]]},
{"k":"v17","type":"Polygon","coordinates":[[[1405,145],[1427,152],[1397,183],[1389,173],[1405,145]]]},
{"k":"v11","type":"Polygon","coordinates":[[[1059,269],[1112,247],[1156,278],[1154,302],[1141,304],[1069,294],[1059,269]]]},
{"k":"v18","type":"Polygon","coordinates":[[[1069,294],[1144,303],[1081,323],[1069,294]]]},
{"k":"v6","type":"Polygon","coordinates":[[[1081,323],[1154,302],[1167,315],[1157,386],[1115,400],[1081,323]]]},
{"k":"v19","type":"Polygon","coordinates":[[[1156,278],[1188,266],[1208,277],[1211,288],[1205,310],[1167,315],[1154,302],[1156,278]]]},
{"k":"v20","type":"Polygon","coordinates":[[[1211,288],[1219,279],[1254,276],[1267,318],[1243,344],[1205,310],[1211,288]]]},
{"k":"v11","type":"Polygon","coordinates":[[[1258,278],[1293,292],[1267,318],[1258,278]]]},
{"k":"v6","type":"Polygon","coordinates":[[[1167,315],[1205,310],[1243,344],[1184,404],[1177,404],[1157,386],[1167,315]]]},
{"k":"v13","type":"Polygon","coordinates":[[[1115,400],[1157,386],[1177,404],[1176,413],[1159,431],[1122,421],[1115,400]]]},
{"k":"m8","type":"Polygon","coordinates":[[[1122,421],[1159,431],[1144,446],[1122,421]]]},
{"k":"f1","type":"Polygon","coordinates":[[[752,237],[761,228],[1014,173],[1122,421],[998,510],[752,237]]]},
{"k":"f2","type":"Polygon","coordinates":[[[967,190],[1015,173],[1060,280],[1004,284],[967,190]]]},
{"k":"f3","type":"Polygon","coordinates":[[[1004,284],[1060,280],[1109,393],[1090,443],[1044,476],[912,401],[1004,284]]]},
{"k":"f2","type":"Polygon","coordinates":[[[1109,393],[1122,421],[1090,443],[1109,393]]]},
{"k":"f4","type":"Polygon","coordinates":[[[1122,421],[1144,446],[1040,556],[998,510],[1122,421]]]},
{"k":"m3","type":"Polygon","coordinates":[[[1090,443],[1122,421],[1134,438],[1132,457],[1094,450],[1090,443]]]},
{"k":"m3","type":"Polygon","coordinates":[[[1056,469],[1090,443],[1096,450],[1087,479],[1056,469]]]},
{"k":"m8","type":"Polygon","coordinates":[[[1096,450],[1126,465],[1116,481],[1100,492],[1087,478],[1096,450]]]},
{"k":"f4","type":"Polygon","coordinates":[[[1057,471],[1087,480],[1094,492],[1100,492],[1070,524],[1045,520],[1057,471]]]},
{"k":"m3","type":"Polygon","coordinates":[[[998,510],[1015,498],[1022,520],[1012,526],[998,510]]]},
{"k":"h1","type":"Polygon","coordinates":[[[1480,7],[1561,7],[1561,114],[1497,82],[1480,7]]]},
{"k":"h1","type":"Polygon","coordinates":[[[1484,22],[1551,13],[1535,42],[1512,88],[1497,80],[1484,22]]]},
{"k":"h2","type":"Polygon","coordinates":[[[1482,7],[1552,7],[1544,13],[1484,20],[1482,7]]]},
{"k":"h3","type":"Polygon","coordinates":[[[1512,88],[1532,52],[1555,77],[1519,90],[1512,88]]]},
{"k":"h4","type":"Polygon","coordinates":[[[1537,38],[1552,35],[1559,76],[1532,52],[1537,38]]]},
{"k":"h5","type":"Polygon","coordinates":[[[1519,90],[1561,77],[1561,114],[1519,90]]]},
{"k":"h6","type":"Polygon","coordinates":[[[1552,7],[1561,7],[1561,74],[1555,40],[1552,7]]]},
{"k":"h7","type":"Polygon","coordinates":[[[1539,30],[1552,12],[1552,35],[1537,38],[1539,30]]]},
{"k":"i1","type":"Polygon","coordinates":[[[1497,82],[1561,114],[1561,175],[1534,197],[1428,166],[1415,155],[1497,82]]]},
{"k":"i2","type":"Polygon","coordinates":[[[1447,135],[1467,117],[1460,145],[1447,135]]]},
{"k":"i3","type":"Polygon","coordinates":[[[1427,155],[1447,137],[1460,145],[1451,172],[1427,155]]]},
{"k":"i4","type":"Polygon","coordinates":[[[1451,172],[1462,145],[1468,142],[1535,196],[1451,172]]]},
{"k":"h2","type":"Polygon","coordinates":[[[1482,100],[1494,84],[1514,90],[1485,100],[1482,100]]]},
{"k":"i5","type":"Polygon","coordinates":[[[1534,197],[1561,175],[1561,237],[1534,197]]]},
{"k":"i6","type":"Polygon","coordinates":[[[1427,152],[1403,180],[1428,166],[1427,152]]]},
{"k":"i6","type":"Polygon","coordinates":[[[1428,166],[1534,197],[1561,237],[1561,313],[1469,351],[1351,272],[1352,232],[1428,166]]]},
{"k":"i7","type":"Polygon","coordinates":[[[1381,204],[1403,181],[1431,167],[1436,201],[1408,232],[1400,231],[1381,216],[1381,204]]]},
{"k":"i8","type":"Polygon","coordinates":[[[1431,167],[1485,185],[1485,191],[1468,217],[1454,217],[1436,200],[1431,167]]]},
{"k":"i9","type":"Polygon","coordinates":[[[1485,191],[1510,191],[1520,227],[1513,238],[1480,238],[1468,218],[1485,191]]]},
{"k":"i10","type":"Polygon","coordinates":[[[1510,191],[1534,201],[1542,214],[1523,223],[1510,191]]]},
{"k":"i9","type":"Polygon","coordinates":[[[1513,238],[1523,223],[1542,215],[1561,238],[1561,252],[1508,252],[1513,238]]]},
{"k":"i11","type":"Polygon","coordinates":[[[1513,238],[1561,252],[1561,299],[1522,302],[1509,281],[1515,250],[1513,238]]]},
{"k":"i12","type":"Polygon","coordinates":[[[1408,232],[1436,201],[1454,218],[1438,241],[1400,231],[1408,232]]]},
{"k":"i11","type":"Polygon","coordinates":[[[1454,218],[1468,218],[1480,238],[1450,261],[1438,241],[1454,218]]]},
{"k":"i9","type":"Polygon","coordinates":[[[1480,238],[1513,238],[1509,279],[1488,278],[1450,261],[1480,238]]]},
{"k":"i10","type":"Polygon","coordinates":[[[1450,261],[1488,278],[1473,294],[1460,302],[1445,288],[1450,261]]]},
{"k":"i13","type":"Polygon","coordinates":[[[1488,278],[1509,281],[1522,302],[1515,309],[1487,316],[1473,294],[1488,278]]]},
{"k":"i8","type":"Polygon","coordinates":[[[1363,220],[1380,216],[1399,231],[1398,246],[1370,249],[1363,231],[1363,220]]]},
{"k":"i14","type":"Polygon","coordinates":[[[1351,271],[1361,247],[1370,249],[1394,237],[1395,296],[1390,297],[1351,271]]]},
{"k":"i10","type":"Polygon","coordinates":[[[1394,246],[1411,234],[1438,241],[1450,261],[1445,288],[1427,296],[1395,291],[1394,246]]]},
{"k":"i15","type":"Polygon","coordinates":[[[1391,294],[1427,296],[1432,328],[1390,298],[1391,294]]]},
{"k":"h4","type":"Polygon","coordinates":[[[1427,296],[1444,288],[1460,302],[1435,327],[1432,328],[1427,296]]]},
{"k":"i6","type":"Polygon","coordinates":[[[1435,327],[1460,302],[1473,303],[1487,316],[1488,342],[1469,351],[1435,327]]]},
{"k":"i6","type":"Polygon","coordinates":[[[1487,316],[1515,309],[1526,326],[1489,342],[1487,316]]]},
{"k":"i10","type":"Polygon","coordinates":[[[1522,303],[1561,299],[1561,313],[1526,326],[1522,303]]]},
{"k":"i16","type":"Polygon","coordinates":[[[1351,234],[1351,272],[1321,266],[1351,234]]]},
{"k":"j1","type":"Polygon","coordinates":[[[1469,351],[1561,313],[1561,556],[1469,351]]]},
{"k":"j2","type":"Polygon","coordinates":[[[1495,341],[1547,323],[1542,353],[1521,360],[1487,351],[1495,341]]]},
{"k":"j3","type":"Polygon","coordinates":[[[1487,351],[1521,360],[1521,383],[1507,395],[1488,378],[1487,351]]]},
{"k":"j2","type":"Polygon","coordinates":[[[1521,360],[1542,353],[1559,371],[1552,391],[1521,383],[1521,360]]]},
{"k":"j3","type":"Polygon","coordinates":[[[1542,353],[1547,324],[1561,328],[1561,371],[1559,371],[1542,353]]]},
{"k":"j4","type":"Polygon","coordinates":[[[1507,395],[1521,383],[1552,391],[1545,435],[1535,438],[1512,450],[1492,398],[1507,395]]]},
{"k":"j3","type":"Polygon","coordinates":[[[1535,438],[1552,391],[1561,391],[1561,436],[1535,438]]]},
{"k":"j1","type":"Polygon","coordinates":[[[1522,470],[1535,440],[1561,436],[1561,502],[1545,522],[1522,470]]]},
{"k":"j4","type":"Polygon","coordinates":[[[1513,448],[1532,441],[1522,470],[1513,448]]]},
{"k":"j5","type":"Polygon","coordinates":[[[1478,370],[1487,366],[1497,383],[1485,391],[1478,370]]]},
{"k":"q1","type":"Polygon","coordinates":[[[1321,266],[1351,272],[1469,351],[1545,522],[1561,565],[1214,752],[1038,556],[1321,266]]]},
{"k":"q2","type":"Polygon","coordinates":[[[1321,268],[1337,289],[1324,313],[1283,306],[1321,268]]]},
{"k":"q3","type":"Polygon","coordinates":[[[1351,275],[1467,350],[1420,400],[1324,313],[1337,289],[1351,275]]]},
{"k":"q3","type":"Polygon","coordinates":[[[1236,360],[1283,306],[1324,313],[1355,341],[1260,378],[1236,360]]]},
{"k":"q3","type":"Polygon","coordinates":[[[1114,481],[1229,363],[1260,378],[1271,560],[1209,593],[1149,524],[1114,481]]]},
{"k":"q1","type":"Polygon","coordinates":[[[1260,378],[1355,341],[1420,400],[1433,446],[1400,530],[1367,578],[1271,597],[1267,560],[1260,378]]]},
{"k":"q4","type":"Polygon","coordinates":[[[1209,594],[1271,564],[1365,580],[1218,606],[1209,594]]]},
{"k":"q5","type":"Polygon","coordinates":[[[1112,481],[1209,594],[1218,606],[1205,661],[1141,668],[1159,688],[1038,556],[1112,481]]]},
{"k":"q6","type":"Polygon","coordinates":[[[1141,668],[1210,640],[1205,661],[1159,688],[1141,668]]]},
{"k":"q7","type":"Polygon","coordinates":[[[1433,446],[1466,438],[1492,438],[1510,443],[1545,524],[1561,564],[1473,610],[1398,588],[1382,560],[1400,530],[1433,446]]]},
{"k":"q3","type":"Polygon","coordinates":[[[1420,400],[1437,392],[1466,438],[1433,446],[1420,400]]]},
{"k":"q8","type":"Polygon","coordinates":[[[1437,392],[1468,358],[1510,443],[1492,438],[1466,438],[1437,392]]]},
{"k":"q9","type":"Polygon","coordinates":[[[1218,606],[1368,580],[1415,643],[1254,730],[1242,716],[1205,661],[1218,606]]]},
{"k":"q10","type":"Polygon","coordinates":[[[1383,588],[1398,586],[1423,625],[1423,640],[1415,643],[1383,588]]]},
{"k":"q9","type":"Polygon","coordinates":[[[1398,588],[1473,610],[1435,632],[1423,628],[1398,588]]]},
{"k":"q11","type":"Polygon","coordinates":[[[1172,701],[1190,676],[1218,681],[1230,701],[1226,717],[1199,733],[1172,701]]]},
{"k":"q12","type":"Polygon","coordinates":[[[1199,735],[1226,718],[1239,737],[1214,750],[1199,735]]]},
{"k":"q3","type":"Polygon","coordinates":[[[1190,673],[1204,662],[1218,681],[1190,673]]]},
{"k":"q13","type":"Polygon","coordinates":[[[1226,717],[1230,701],[1241,717],[1234,727],[1226,717]]]},
{"k":"q13","type":"Polygon","coordinates":[[[1159,688],[1190,673],[1172,701],[1159,688]]]},
{"k":"d1","type":"Polygon","coordinates":[[[1214,752],[1561,566],[1561,812],[1340,889],[1214,752]]]},
{"k":"d2","type":"Polygon","coordinates":[[[1340,685],[1286,819],[1278,720],[1340,685]]]},
{"k":"d2","type":"Polygon","coordinates":[[[1428,638],[1475,615],[1485,626],[1464,648],[1428,638]]]},
{"k":"d3","type":"Polygon","coordinates":[[[1464,648],[1485,626],[1561,688],[1561,755],[1464,648]]]},
{"k":"d4","type":"Polygon","coordinates":[[[1485,626],[1475,615],[1520,588],[1514,630],[1505,640],[1485,626]]]},
{"k":"d4","type":"Polygon","coordinates":[[[1505,640],[1514,630],[1561,615],[1561,685],[1505,640]]]},
{"k":"d5","type":"Polygon","coordinates":[[[1520,588],[1561,566],[1561,615],[1514,630],[1520,588]]]},
{"k":"w1","type":"Polygon","coordinates":[[[1340,889],[1561,812],[1561,945],[1433,992],[1340,889]]]},
{"k":"w2","type":"Polygon","coordinates":[[[1370,887],[1378,875],[1433,857],[1447,865],[1460,912],[1403,961],[1368,899],[1370,887]]]},
{"k":"w3","type":"Polygon","coordinates":[[[1460,914],[1472,874],[1550,873],[1561,879],[1561,944],[1500,966],[1460,914]]]},
{"k":"w3","type":"Polygon","coordinates":[[[1472,872],[1475,845],[1519,827],[1550,872],[1472,872]]]},
{"k":"w3","type":"Polygon","coordinates":[[[1519,827],[1540,820],[1561,855],[1554,872],[1519,827]]]},
{"k":"w1","type":"Polygon","coordinates":[[[1403,961],[1460,914],[1500,966],[1433,992],[1403,961]]]},
{"k":"w2","type":"Polygon","coordinates":[[[1447,865],[1455,852],[1470,854],[1472,874],[1460,912],[1447,865]]]},
{"k":"w4","type":"Polygon","coordinates":[[[1340,889],[1355,885],[1360,902],[1371,900],[1370,922],[1340,889]]]},
{"k":"s1","type":"Polygon","coordinates":[[[1433,992],[1561,945],[1561,1137],[1433,992]]]},
{"k":"s2","type":"Polygon","coordinates":[[[1493,971],[1561,944],[1561,977],[1493,971]]]},
{"k":"s2","type":"Polygon","coordinates":[[[1442,992],[1492,972],[1453,1014],[1442,992]]]},
{"k":"s3","type":"Polygon","coordinates":[[[1510,987],[1522,974],[1561,977],[1561,1016],[1525,1009],[1510,987]]]},
{"k":"s5","type":"Polygon","coordinates":[[[1453,1014],[1493,972],[1510,987],[1525,1009],[1505,1026],[1488,1019],[1468,1002],[1453,1014]]]},
{"k":"s4","type":"Polygon","coordinates":[[[1488,1022],[1500,1012],[1513,1027],[1502,1039],[1488,1022]]]},
{"k":"s5","type":"Polygon","coordinates":[[[1456,1020],[1475,1012],[1488,1025],[1480,1045],[1456,1020]]]},
{"k":"s6","type":"Polygon","coordinates":[[[1491,1051],[1505,1035],[1561,1020],[1561,1135],[1491,1051]]]},
{"k":"A1","type":"Polygon","coordinates":[[[7,1462],[69,1523],[39,1561],[7,1561],[7,1462]]]},
{"k":"A2","type":"Polygon","coordinates":[[[69,1523],[110,1561],[39,1561],[69,1523]]]}
],
"lines":[
{"r":"major","type":"LineString","coordinates":[[540,7],[1561,1137]]},
{"r":"medium","type":"LineString","coordinates":[[176,7],[7,122]]},
{"r":"medium","type":"LineString","coordinates":[[1497,82],[1038,556]]},
{"r":"medium","type":"LineString","coordinates":[[1480,7],[1497,82],[1561,114]]},
{"r":"medium","type":"LineString","coordinates":[[857,361],[342,785],[1046,1460],[1440,1007]]},
{"r":"medium","type":"LineString","coordinates":[[7,692],[214,793],[7,922]]},
{"r":"medium","type":"LineString","coordinates":[[214,793],[342,785]]},
{"r":"medium","type":"LineString","coordinates":[[1561,1154],[1306,1561]]},
{"r":"medium","type":"LineString","coordinates":[[1410,1402],[1561,1555]]},
{"r":"medium","type":"LineString","coordinates":[[7,1462],[110,1561]]},
{"r":"medium","type":"LineString","coordinates":[[69,1523],[39,1561]]},
{"r":"medium","type":"LineString","coordinates":[[31,7],[26,100]]},
{"r":"medium","type":"LineString","coordinates":[[7,85],[30,105]]},
{"r":"medium","type":"LineString","coordinates":[[1433,992],[1561,945]]},
{"r":"medium","type":"LineString","coordinates":[[1417,1388],[1561,1404]]},
{"r":"medium","type":"LineString","coordinates":[[1046,1460],[1040,1561]]},
{"r":"thin","type":"LineString","coordinates":[[7,292],[567,372]]},
{"r":"thin","type":"LineString","coordinates":[[636,115],[630,244],[567,372],[630,545]]},
{"r":"thin","type":"LineString","coordinates":[[630,244],[737,228]]},
{"r":"thin","type":"LineString","coordinates":[[441,705],[450,783],[455,827],[471,875],[488,924]]},
{"r":"thin","type":"LineString","coordinates":[[628,1057],[923,1098],[1160,821],[1174,713]]},
{"r":"thin","type":"LineString","coordinates":[[455,827],[410,848]]},
{"r":"thin","type":"LineString","coordinates":[[1160,821],[1304,857]]},
{"r":"thin","type":"LineString","coordinates":[[923,1098],[930,1137],[1189,1294]]},
{"r":"thin","type":"LineString","coordinates":[[930,1137],[837,1258]]},
{"r":"thin","type":"LineString","coordinates":[[1443,1350],[1483,1396]]},
{"r":"thin","type":"LineString","coordinates":[[1360,1487],[1387,1561]]},
{"r":"thin","type":"LineString","coordinates":[[780,18],[760,228],[1014,173],[1028,108],[984,7]]},
{"r":"thin","type":"LineString","coordinates":[[1028,108],[1102,7]]},
{"r":"thin","type":"LineString","coordinates":[[1014,173],[1122,421],[1159,431]]},
{"r":"thin","type":"LineString","coordinates":[[1122,421],[998,510]]},
{"r":"thin","type":"LineString","coordinates":[[1428,166],[1534,197],[1561,175]]},
{"r":"thin","type":"LineString","coordinates":[[1534,197],[1561,237]]},
{"r":"thin","type":"LineString","coordinates":[[1352,232],[1351,272],[1469,351],[1561,313]]},
{"r":"thin","type":"LineString","coordinates":[[1321,266],[1351,272]]},
{"r":"thin","type":"LineString","coordinates":[[1469,351],[1545,522],[1561,556]]},
{"r":"thin","type":"LineString","coordinates":[[1561,565],[1214,752]]},
{"r":"thin","type":"LineString","coordinates":[[1561,812],[1340,889]]},
{"r":"thin","type":"LineString","coordinates":[[74,882],[673,1301],[780,1207]]},
{"r":"thin","type":"LineString","coordinates":[[673,1301],[630,1472],[563,1561]]},
{"r":"thin","type":"LineString","coordinates":[[630,1472],[727,1561]]},
{"r":"thin","type":"LineString","coordinates":[[612,1498],[625,1561]]},
{"r":"thin","type":"LineString","coordinates":[[952,1371],[877,1561]]},
{"r":"thin","type":"LineString","coordinates":[[1028,1446],[935,1561]]},
{"r":"thin","type":"LineString","coordinates":[[7,753],[70,724]]},
{"r":"thin","type":"LineString","coordinates":[[214,792],[359,771]]},
{"r":"edge","type":"LineString","coordinates":[[3.75,3.75],[1564.25,3.75],[1564.25,1564.25],[3.75,1564.25],[3.75,3.75]]}
],
"labels":[
{"name":"Carbon\nfixation in\nphotosynthetic\norganisms","lon":330,"lat":122,"abundance":71},
{"name":"Photosynthesis","lon":291,"lat":504,"abundance":88.5},
{"name":"Oxidative\nphosphorylation","lon":699,"lat":360,"abundance":35},
{"name":"RNA\ntransport","lon":704,"lat":79,"abundance":33},
{"name":"Mitochondrial\nbiogenesis","lon":892,"lat":95,"abundance":39},
{"name":"Ribosome","lon":1214,"lat":141,"abundance":87},
{"name":"Translation\nfactors","lon":959,"lat":312,"abundance":41},
{"name":"Chaperones\nand folding\ncatalysts","lon":1310,"lat":495,"abundance":62},
{"name":"Proteasome","lon":1455,"lat":255,"abundance":39.5},
{"name":"Protein\nexport","lon":1509,"lat":140,"abundance":31.5},
{"name":"RNA\ndegradation","lon":1431,"lat":740,"abundance":50},
{"name":"Protein\nprocessing\nin\nendoplasmic\nreticulum","lon":1477,"lat":884,"abundance":22},
{"name":"Amino acid\nmetabolism","lon":785,"lat":750,"abundance":122},
{"name":"Cofactor\nbiosynthesis","lon":1184,"lat":1032,"abundance":61},
{"name":"Purine\nmetabolism","lon":822,"lat":1121,"abundance":34.7},
{"name":"Lipid and\nsteroid\nmetabolism","lon":1005,"lat":1267,"abundance":35.4},
{"name":"Other\nenzymes","lon":1306,"lat":1323,"abundance":57},
{"name":"Cell\ncycle","lon":1520,"lat":1312,"abundance":37},
{"name":"Cytoskeleton\nproteins","lon":1433,"lat":1506,"abundance":21},
{"name":"Exosome","lon":1494,"lat":1437,"abundance":21},
{"name":"Endocytosis","lon":1539,"lat":1506,"abundance":9},
{"name":"Peroxisome","lon":1546,"lat":1426,"abundance":7},
{"name":"Cytokinesis","lon":1444,"lat":1381,"abundance":9},
{"name":"Lysosome","lon":1424,"lat":1398,"abundance":6.5},
{"name":"Regulation\nof actin\ncytoskeleton","lon":1351,"lat":1539,"abundance":9},
{"name":"Spliceosome","lon":1517,"lat":1034,"abundance":17.5},
{"name":"Basal transcription\nfactors","lon":1541,"lat":965,"abundance":7},
{"name":"Transcription\nfactors","lon":1456,"lat":989,"abundance":5},
{"name":"Glycolysis","lon":279,"lat":1294,"abundance":131},
{"name":"TCA cycle\nand\nanaplerotic\nenzymes","lon":382,"lat":945,"abundance":35.6},
{"name":"Transport","lon":79,"lat":809,"abundance":38},
{"name":"Secretion\nsystem","lon":28,"lat":721,"abundance":11.6},
{"name":"Pyrimidine\nmetabolism","lon":404,"lat":776,"abundance":15.3},
{"name":"Glycan\nmetabolism","lon":447,"lat":861,"abundance":7},
{"name":"Methane metabolism","lon":313,"lat":783,"abundance":5},
{"name":"Carbohydrate\nmetabolism","lon":784,"lat":1403,"abundance":45},
{"name":"Other\ncentral\nmetabolism\nenzymes","lon":955,"lat":1458,"abundance":13.3},
{"name":"Pyruvate\nmetabolism","lon":1008,"lat":1519,"abundance":13.8},
{"name":"Butanoate\nmetabolism","lon":651,"lat":1528,"abundance":12},
{"name":"Pentose\nphosphate\nmetabolism","lon":602,"lat":1543,"abundance":9.5},
{"name":"Antigen\nprocessing\nand\npresentation","lon":27,"lat":1516,"abundance":9.5},
{"name":"Estrogen signalling\npathway","lon":72,"lat":1552,"abundance":6.5},
{"name":"GTP-binding\nsignaling proteins","lon":72,"lat":35,"abundance":11.5},
{"name":"Two-\ncomponent\nsystem","lon":17,"lat":26,"abundance":7},
{"name":"Plant\nhormone\nsignal\ntransduction","lon":16,"lat":71,"abundance":6},
{"name":"Photosynthesis-\nantenna\nproteins","lon":665,"lat":190,"abundance":10},
{"name":"Biosynthesis\nof other\nsecondary\nmetabolites","lon":1196,"lat":782,"abundance":11.5},
{"name":"tRNA\nloading","lon":1051,"lat":502,"abundance":14},
{"name":"Ribosome\nbiogenesis\nin\neukaryotes","lon":1035,"lat":21,"abundance":13.4},
{"name":"Histone","lon":1510,"lat":31,"abundance":14.8},
{"name":"Chromosome-\nrelated","lon":1541,"lat":62,"abundance":6},
{"name":"DNA\nreplication","lon":1548,"lat":90,"abundance":7.5},
{"name":"mRNA\nsurveillance\npathway","lon":1470,"lat":40,"abundance":7},
{"name":"Ubiquitin\nmediated\nproteolysis","lon":1550,"lat":199,"abundance":6.5},
{"name":"Ubiquitin\nbinding","lon":1341,"lat":257,"abundance":5},
{"name":"Peptidases","lon":1529,"lat":404,"abundance":14},
{"name":"Messenger\nRNA\nBiogenesis","lon":780,"lat":8,"abundance":3.5}
]},
"layer":[
{"data":{"name":"cells"},"mark":{"type":"geoshape","stroke":"#000000","strokeWidth":0.9,"strokeJoin":"round"},"encoding":{"color":{"field":"k","type":"nominal","legend":null,"scale":{
"domain":["z0","c1","c2","c3","c4","c5","a1","a2","a3","a4","x1","x2","x3","x4","x5","x6","x7","x8","x9","x10","p1","p2","p3","p4","p5","p6","p7","p8","p9","p10","p11","p12","p13","p14","p15","p16","p17","p18","Y1","Y2","Y3","Y4","Y5","Y6","Y7","Y8","Y9","Y10","Y11","Y12","Y13","Y14","Y15","Y16","Y17","Y18","Y19","Y20","Y21","Y22","U1","U2","U3","U4","U5","U6","U7","O1","O2","O3","O4","O5","O6","O7","O8","O9","S1","S2","S3","S4","S5","S6","t1","t2","t3","t4","t5","t6","t7","t8","t9","t10","t11","t12","t13","t14","g1","g2","g3","g4","g5","g6","g7","g8","g9","g10","g11","g12","g13","g14","g15","g16","g17","g18","g19","g20","g21","k1","k2","k3","k4","k5","k6","k7","k8","k9","k10","k11","k12","k13","k14","k15","n1","n2","n3","n4","n5","n6","n7","n8","n9","n10","n11","n12","n13","n14","e1","e2","e3","e4","e5","e6","e7","e8","e9","e10","e11","r1","r2","r3","r4","r5","r6","r7","r8","r9","r10","r11","r12","r13","r14","r15","r16","r17","r18","r19","v1","v2","v3","v4","v5","v6","v7","v8","v9","v10","v11","v12","v13","v14","v15","v16","v17","v18","v19","v20","m1","m2","m3","m4","m5","m6","m7","m8","m9","m10","m11","m12","m13","m14","m16","m17","m18","m19","m20","f1","f2","f3","f4","h1","h2","h3","h4","h5","h6","h7","i1","i2","i3","i4","i5","i6","i7","i8","i9","i10","i11","i12","i13","i14","i15","i16","j1","j2","j3","j4","j5","q1","q2","q3","q4","q5","q6","q7","q8","q9","q10","q11","q12","q13","d1","d2","d3","d4","d5","w1","w2","w3","w4","s1","s2","s3","s4","s5","s6","y1","y2","y3","y4","T1","T2","T3","T4","T5","T6","T7","P1","P2","P3","P4","P5","P6","P7","P8","P9","A1","A2"],
"range":["#000000","#D6A347","#AE8429","#CC9B3E","#DDA84B","#F0B14F","#DF9E30","#DE981F","#FFAD38","#E6AC3C","#D08F3A","#CC8333","#E59E48","#CC8B3B","#E08F47","#C78A2C","#C27D32","#F5A55C","#D68E3A","#F0A854","#D3843F","#EA8E4A","#DC7F45","#CE7D3F","#E07F3F","#E59050","#CE793E","#C47339","#EA8F57","#E2854E","#D08142","#C67A3F","#D5823A","#CB7638","#BF7231","#BC6F30","#E08F57","#D58743","#FFDE3C","#FFD43A","#FFCB35","#FFC02C","#FFB725","#FFAE20","#F6B50E","#F2AE1E","#F0A807","#EBB002","#EC9F10","#E5A800","#E0B000","#EEAD1C","#DD9400","#D28800","#C08200","#F5A60F","#EEAB28","#E59A00","#F4A31D","#FFB030","#D49F1A","#C8910F","#E3A42C","#F5AD3B","#BF8908","#E8AE3C","#E9A332","#FF9D2E","#E58A15","#DC8500","#E68300","#F39A2A","#EB8F25","#DF8A10","#D67F10","#F9A03A","#E29422","#EE9F33","#DE871E","#E8A030","#FFB238","#DF8700","#C56E1A","#B0600B","#CB7022","#E08833","#BB6E1C","#C76E2F","#BF6520","#C06F2D","#BD6315","#AE5E15","#A95C10","#B5630F","#AF620A","#B96E1E","#A05A2A","#964F18","#9C5518","#A05526","#BE6F2D","#B3651F","#B36214","#AB5F20","#A85A1C","#9E5E25","#BC6D2C","#B0662D","#B26422","#B86628","#985417","#B06B2A","#B87038","#995020","#BD7434","#A35C20","#AE6024","#B05E18","#B25010","#B55718","#C5662C","#B55C18","#AE5A0C","#A85A14","#D06B2C","#C5601F","#B35808","#AE5F1A","#BE6A28","#D07529","#BC5C18","#CC6A2C","#AC5030","#A84A20","#B85238","#D0643A","#9C5020","#A86230","#875018","#8E4C12","#C0683C","#B86B30","#A0562A","#8E4E10","#CE752E","#A0601A","#D4AA60","#F3C37C","#F6C77F","#FFD38E","#CCA45E","#D9AE6D","#DDB878","#FFD080","#EEBD75","#ECC07D","#C8A25A","#F0404A","#FF4A50","#DD2E3F","#EE3C47","#D21F32","#B01818","#C0141C","#9C0010","#AC0F10","#921414","#A30A14","#BB000A","#F02C48","#D80A3A","#E9294C","#D21840","#E63B5A","#D8203F","#EE2F4D","#5D6FEF","#7C80FF","#4A62E0","#6878FA","#6E7CFA","#6E72FF","#6672F5","#5060E5","#4560DC","#3F5CE0","#6070F0","#5266E2","#5F70F0","#5262E6","#4B63EA","#6170F5","#4E5EE6","#5C6CF5","#6070FF","#5A6AEC","#6680F5","#4A70E0","#4670DE","#4C70DA","#4A62DA","#4F76E4","#7090F5","#3D66CC","#406ADA","#5672E8","#5D7AEE","#4060D8","#5465E8","#3F5BD6","#4358D4","#4C60E0","#5567EE","#7885FF","#5880FA","#6E83EE","#4A66D2","#4361BF","#5C78E6","#8ECFFF","#6EB4E6","#88CCFA","#98DCFF","#B0E4FF","#A0BAEC","#80C4F5","#9ACBFF","#64A4D8","#88C0F4","#5CA6DE","#5C97CC","#7EBCFC","#88BBFC","#5AACF0","#82BEFC","#78B4FA","#68B0F0","#6CACF0","#60ABF0","#88C4FF","#60A8EC","#4A90E8","#7DBCF5","#6BABEE","#62A4E6","#88C4FA","#9ADAFF","#86A8FF","#7BADFC","#79A8FF","#5580E4","#5E95F0","#4D88E4","#5488E8","#5F8EEA","#70A4FC","#80AEFF","#5A90EC","#72ABFF","#6AA0F4","#75A9EC","#5D9ADC","#5592D2","#66A4E2","#70AAE8","#6EA6E6","#70A0E8","#85B8FF","#7DB8FF","#3F50C0","#5050CC","#5A5CD8","#2E46AE","#4E62CC","#3A4EB4","#00EEFF","#1FD0CC","#18AEC4","#404040","#7F3510","#8A3700","#7F3400","#8A4000","#8E4500","#934300","#8E3E00","#E09028","#C07A10","#E39B2F","#D48E1A","#C67C08","#A07008","#F0A028","#C87A00","#FFA028","#B50BA8","#E830A0"]}}}},
{"data":{"name":"lines"},"mark":{"type":"geoshape","filled":false,"stroke":"#000000","strokeJoin":"miter"},"encoding":{"strokeWidth":{"field":"r","type":"nominal","legend":null,"scale":{"domain":["major","medium","thin","edge"],"range":[7.5,5,2.3,12]}}}},
{"data":{"name":"labels"},"transform":[{"filter":"datum.abundance >= 30"}],"mark":{"type":"text","font":"DejaVu Sans","fontWeight":"bold","align":"center","baseline":"middle","lineBreak":"\n","fill":"#333333","opacity":0.75,"dx":2,"dy":2},"encoding":{"longitude":{"field":"lon","type":"quantitative"},"latitude":{"field":"lat","type":"quantitative"},"text":{"field":"name","type":"nominal"},"size":{"field":"abundance","type":"quantitative","legend":null,"scale":{"domain":[0,140],"range":[0,140]}}}},
{"data":{"name":"labels"},"transform":[{"filter":"datum.abundance < 30"}],"mark":{"type":"text","font":"DejaVu Sans","fontWeight":"bold","align":"center","baseline":"middle","lineBreak":"\n","fill":"#333333","opacity":0.75,"dx":1,"dy":1},"encoding":{"longitude":{"field":"lon","type":"quantitative"},"latitude":{"field":"lat","type":"quantitative"},"text":{"field":"name","type":"nominal"},"size":{"field":"abundance","type":"quantitative","legend":null,"scale":{"domain":[0,140],"range":[0,140]}}}},
{"data":{"name":"labels"},"mark":{"type":"text","font":"DejaVu Sans","fontWeight":"bold","align":"center","baseline":"middle","lineBreak":"\n","fill":"#FFFFFF"},"encoding":{"longitude":{"field":"lon","type":"quantitative"},"latitude":{"field":"lat","type":"quantitative"},"text":{"field":"name","type":"nominal"},"size":{"field":"abundance","type":"quantitative","legend":null,"scale":{"domain":[0,140],"range":[0,140]}}}}
]}
